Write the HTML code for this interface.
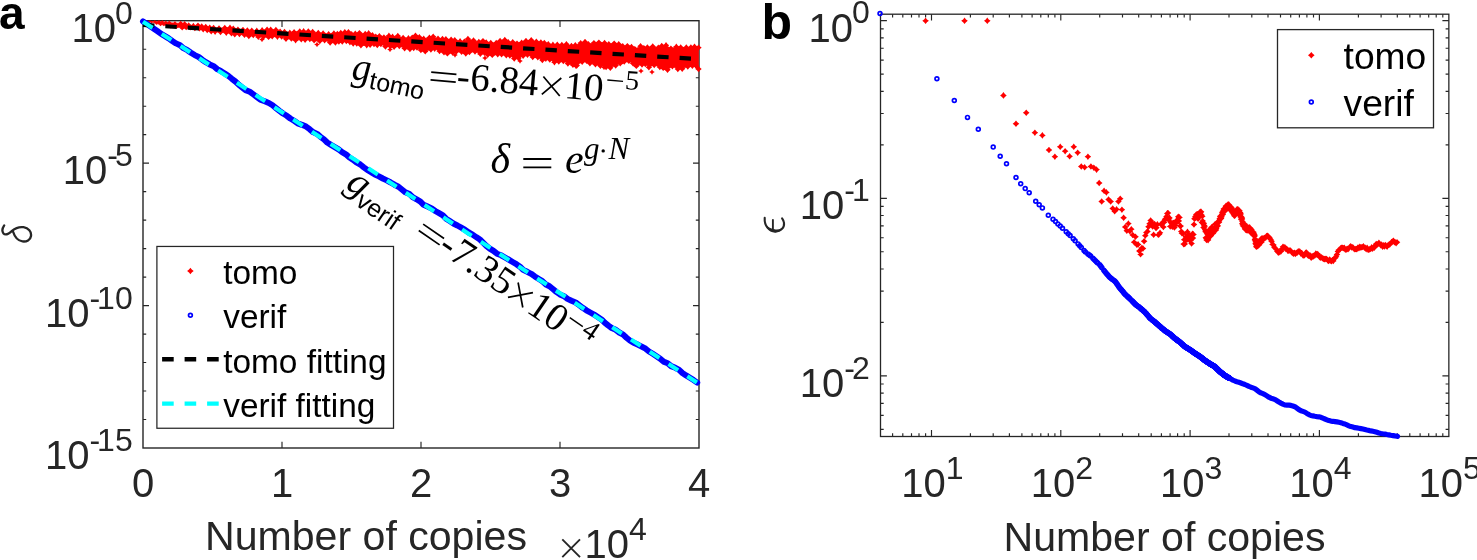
<!DOCTYPE html>
<html><head><meta charset="utf-8"><title>figure</title>
<style>
html,body{margin:0;padding:0;background:#fff;}
body{width:1477px;height:560px;overflow:hidden;font-family:"Liberation Sans",sans-serif;}
svg{display:block;will-change:transform;}
</style></head><body>
<svg width="1477" height="560" viewBox="0 0 1477 560">
<rect x="0" y="0" width="1477" height="560" fill="#fff"/>
<g id="plot-a">
<rect x="143" y="20.7" width="556" height="427.3" fill="none" stroke="#262626" stroke-width="1.4"/>
<path d="M282 448v-6.2M282 20.7v6.2M421 448v-6.2M421 20.7v6.2M560 448v-6.2M560 20.7v6.2M143 49.2h3.2 M699 49.2h-3.2M143 77.7h3.2 M699 77.7h-3.2M143 106.2h3.2 M699 106.2h-3.2M143 134.6h3.2 M699 134.6h-3.2M143 163.1h6 M699 163.1h-6M143 191.6h3.2 M699 191.6h-3.2M143 220.1h3.2 M699 220.1h-3.2M143 248.6h3.2 M699 248.6h-3.2M143 277.1h3.2 M699 277.1h-3.2M143 305.6h6 M699 305.6h-6M143 334.1h3.2 M699 334.1h-3.2M143 362.5h3.2 M699 362.5h-3.2M143 391h3.2 M699 391h-3.2M143 419.5h3.2 M699 419.5h-3.2" stroke="#262626" stroke-width="1.15" fill="none"/>
<path d="M143.5 20.5 L150 21.4 L154.9 21.4 L159 21.4 L162.3 21.9 L165.8 22.3 L169.3 22.4 L175 23.2 L180.7 23.2 L184.7 23.5 L188.7 24.9 L193.4 25.7 L198 25.4 L201.7 26.5 L205.7 27 L209.7 27.7 L213.6 27.9 L219 28.5 L224.8 28 L230 27.8 L233.3 28.8 L237.9 29.8 L243 29.9 L247.3 30.5 L251.8 30.6 L256.8 30.8 L262.1 30.3 L267.1 29.7 L270.7 29.7 L275.9 29.9 L280.1 31.7 L284.5 31.9 L289.8 32.8 L294.1 32.1 L299.8 31.4 L303.6 31.3 L308.3 31.5 L312.6 31.9 L318.3 33 L323.1 33.5 L328.6 34.2 L333.9 33.5 L337.4 33.9 L340.8 33 L344.8 32.3 L348.4 32.1 L351.7 34.3 L355.3 33.6 L359.4 33.1 L365.2 34 L368.6 33.3 L372.5 35.3 L375.8 36.6 L379.4 36.1 L383.9 37.4 L388.9 35.8 L392.6 36.8 L397.8 36 L403.1 37.9 L408.4 38.3 L412.2 37.6 L415.5 35.7 L419.4 37.2 L423.7 38.8 L429.4 37.7 L433.2 36.7 L438 38.8 L442.5 39 L445.9 39.2 L451.1 39.8 L454.8 40.2 L460.1 41.3 L464.3 41.8 L467.9 39 L473.5 40.5 L478.8 42 L483 41.1 L486.2 42.4 L490.8 43 L496.2 43 L500.1 40.9 L504.8 40 L508.3 42.3 L512.7 42.1 L517 43.6 L521.6 42.7 L526 41 L531.2 40.3 L536.3 41.7 L540.9 42.5 L544.3 42.9 L548.3 44.2 L552.9 44.8 L557.3 44.6 L561.8 45 L566.4 44.3 L571.4 45.9 L575.3 45.2 L580.7 43.1 L585 42 L588.4 44.2 L593.9 43.1 L598.9 42.6 L604.6 42.9 L608.8 44.3 L614.2 43.6 L618.7 44.2 L622.7 46.3 L627.4 46.1 L631.5 46.9 L634.8 49.1 L640.5 46.2 L643.8 48.1 L647.4 47.4 L652.7 46.5 L658.3 47.7 L661.7 45.9 L666 45.3 L670.9 48.6 L676.3 46.8 L680.7 47.4 L686.3 47.5 L690.9 47.5 L694.5 46.8 L698.5 47.7 L698.5 69 L696 65.9 L692.4 65.7 L687.8 66.6 L682.2 68.8 L677.8 69 L672.4 66.4 L667.5 69.8 L663.2 67.9 L659.8 67 L654.2 65 L648.9 67.3 L645.3 64.1 L642 64.6 L636.3 65.9 L633 63.3 L628.9 60.9 L624.2 61.6 L620.2 63.4 L615.7 65.5 L610.3 67.8 L606.1 67 L600.4 65.8 L595.4 64.3 L589.9 63.3 L586.5 60.9 L582.2 61.8 L576.8 65.6 L572.9 64.9 L567.9 63.6 L563.3 61.1 L558.8 61.5 L554.4 62.2 L549.8 59.5 L545.8 58.7 L542.4 60 L537.8 57.4 L532.7 57 L527.5 54.9 L523.1 55.8 L518.5 58.1 L514.2 58.5 L509.8 55.6 L506.3 55.3 L501.6 54.3 L497.7 54.3 L492.3 54.9 L487.7 54.7 L484.5 52.8 L480.3 53.9 L475 51.6 L469.4 52 L465.8 53.5 L461.6 51.8 L456.3 51.6 L452.6 52.5 L447.4 53.4 L444 52.3 L439.5 51.1 L434.7 48.7 L430.9 49.5 L425.2 51.4 L420.9 50 L417 47.5 L413.7 48.1 L409.9 49.1 L404.6 48.3 L399.3 46.1 L394.1 46.7 L390.4 46.2 L385.4 46.6 L380.9 44 L377.3 45.1 L374 44 L370.1 44.7 L366.7 45.2 L360.9 45.3 L356.8 43.5 L353.2 43.6 L349.9 42.2 L346.3 41.1 L342.3 41.5 L338.9 41.5 L335.4 42.5 L330.1 42.6 L324.6 40.3 L319.8 41.1 L314.1 40.4 L309.8 39 L305.1 39.8 L301.3 39.3 L295.6 40.2 L291.3 38.5 L286 38.8 L281.6 36.6 L277.4 36.7 L272.2 36.2 L268.6 36.9 L263.6 36.6 L258.3 36.9 L253.3 35 L248.8 36.1 L244.5 34.8 L239.4 34 L234.8 34.3 L231.5 33.3 L226.3 32.7 L220.5 32 L215.1 31.7 L211.2 31.2 L207.2 30.1 L203.2 29.3 L199.5 28.5 L194.9 28.5 L190.2 27.9 L186.2 27.8 L182.2 28.3 L176.5 26.9 L170.8 26.5 L167.3 25.9 L163.8 24.7 L160.5 24.7 L156.4 23.6 L151.5 22.1 L143.5 21.5Z" fill="#f00" stroke="#f00" stroke-width="0.6" stroke-linejoin="miter"/>
<path d="M576 63.7L577 65.5L578.8 66.5L577 67.5L576 69.3L575 67.5L573.2 66.5L575 65.5ZM604 64.7L605 66.5L606.8 67.5L605 68.5L604 70.3L603 68.5L601.2 67.5L603 66.5ZM641 68.2L642 70L643.8 71L642 72L641 73.8L640 72L638.2 71L640 70ZM652 69.2L653 71L654.8 72L653 73L652 74.8L651 73L649.2 72L651 71ZM455 52.2L456 54L457.8 55L456 56L455 57.8L454 56L452.2 55L454 54ZM485 55.2L486 57L487.8 58L486 59L485 60.8L484 59L482.2 58L484 57ZM520 58.2L521 60L522.8 61L521 62L520 63.8L519 62L517.2 61L519 60ZM390 46.7L391 48.5L392.8 49.5L391 50.5L390 52.3L389 50.5L387.2 49.5L389 48.5ZM317 41.7L318 43.5L319.8 44.5L318 45.5L317 47.3L316 45.5L314.2 44.5L316 43.5ZM262 36.7L263 38.5L264.8 39.5L263 40.5L262 42.3L261 40.5L259.2 39.5L261 38.5Z" fill="#f00"/>
<path d="M150 20.2L150.6 20.8L151.2 21.4L150.6 22L150 22.6L149.4 22L148.8 21.4L149.4 20.8ZM151.5 20.9L152.1 21.6L152.7 22.1L152.1 22.7L151.5 23.4L150.9 22.7L150.3 22.1L150.9 21.6ZM154.9 19.9L155.5 20.7L156.3 21.4L155.5 22L154.9 22.8L154.3 22L153.5 21.4L154.3 20.7ZM156.4 22.2L157 23L157.8 23.6L157 24.2L156.4 25L155.8 24.2L155 23.6L155.8 23ZM159 19.9L159.7 20.7L160.6 21.4L159.7 22.1L159 23L158.3 22.1L157.5 21.4L158.3 20.7ZM160.5 23.1L161.2 24L162.1 24.7L161.2 25.4L160.5 26.3L159.8 25.4L159 24.7L159.8 24ZM162.3 20.2L163.1 21.1L164 21.9L163.1 22.7L162.3 23.6L161.6 22.7L160.6 21.9L161.6 21.1ZM163.8 23L164.6 23.9L165.5 24.7L164.6 25.4L163.8 26.3L163.1 25.4L162.1 24.7L163.1 23.9ZM165.8 20.5L166.6 21.5L167.6 22.3L166.6 23.2L165.8 24.2L165 23.2L164 22.3L165 21.5ZM167.3 24.1L168.1 25.1L169.1 25.9L168.1 26.7L167.3 27.7L166.5 26.7L165.5 25.9L166.5 25.1ZM169.3 20.5L170.2 21.5L171.2 22.4L170.2 23.3L169.3 24.4L168.4 23.3L167.4 22.4L168.4 21.5ZM170.8 24.5L171.7 25.6L172.7 26.5L171.7 27.4L170.8 28.4L169.9 27.4L168.9 26.5L169.9 25.6ZM175 21.1L175.9 22.3L177.1 23.2L175.9 24.2L175 25.4L174 24.2L172.8 23.2L174 22.3ZM176.5 24.8L177.4 26L178.6 26.9L177.4 27.9L176.5 29.1L175.5 27.9L174.3 26.9L175.5 26ZM180.7 20.8L181.8 22.1L183.1 23.2L181.8 24.2L180.7 25.5L179.6 24.2L178.3 23.2L179.6 22.1ZM182.2 25.9L183.3 27.2L184.6 28.3L183.3 29.3L182.2 30.6L181.1 29.3L179.8 28.3L181.1 27.2ZM184.7 21L185.8 22.4L187.2 23.5L185.8 24.6L184.7 26L183.5 24.6L182.1 23.5L183.5 22.4ZM186.2 25.3L187.3 26.6L188.7 27.8L187.3 28.9L186.2 30.3L185 28.9L183.6 27.8L185 26.6ZM188.7 22.3L189.9 23.7L191.3 24.9L189.9 26.1L188.7 27.6L187.5 26.1L186 24.9L187.5 23.7ZM190.2 25.2L191.4 26.7L192.8 27.9L191.4 29L190.2 30.5L189 29L187.5 27.9L189 26.7ZM193.4 22.8L194.6 24.4L196.2 25.7L194.6 26.9L193.4 28.5L192.1 26.9L190.5 25.7L192.1 24.4ZM194.9 25.7L196.1 27.2L197.7 28.5L196.1 29.8L194.9 31.3L193.6 29.8L192 28.5L193.6 27.2ZM198 22.4L199.3 24.1L201 25.4L199.3 26.8L198 28.4L196.6 26.8L195 25.4L196.6 24.1ZM199.5 25.5L200.8 27.2L202.5 28.5L200.8 29.9L199.5 31.5L198.1 29.9L196.5 28.5L198.1 27.2ZM201.7 23.3L203.1 25L204.9 26.5L203.1 27.9L201.7 29.6L200.3 27.9L198.6 26.5L200.3 25ZM203.2 26.2L204.6 27.9L206.4 29.3L204.6 30.8L203.2 32.5L201.8 30.8L200.1 29.3L201.8 27.9ZM205.7 23.8L207.2 25.6L208.9 27L207.2 28.4L205.7 30.2L204.3 28.4L202.5 27L204.3 25.6ZM207.2 26.9L208.7 28.6L210.4 30.1L208.7 31.5L207.2 33.3L205.8 31.5L204 30.1L205.8 28.6ZM209.7 24.5L211.2 26.3L212.9 27.7L211.2 29.2L209.7 30.9L208.3 29.2L206.5 27.7L208.3 26.3ZM211.2 28L212.7 29.8L214.4 31.2L212.7 32.7L211.2 34.4L209.8 32.7L208 31.2L209.8 29.8ZM213.6 24.7L215 26.4L216.8 27.9L215 29.3L213.6 31.1L212.1 29.3L210.4 27.9L212.1 26.4ZM215.1 28.5L216.5 30.3L218.3 31.7L216.5 33.1L215.1 34.9L213.6 33.1L211.9 31.7L213.6 30.3ZM219 25.3L220.5 27.1L222.2 28.5L220.5 30L219 31.7L217.6 30L215.8 28.5L217.6 27.1ZM220.5 28.8L222 30.6L223.7 32L222 33.4L220.5 35.2L219.1 33.4L217.3 32L219.1 30.6ZM224.8 24.8L226.2 26.5L228 28L226.2 29.4L224.8 31.2L223.3 29.4L221.6 28L223.3 26.5ZM226.3 29.5L227.7 31.2L229.5 32.7L227.7 34.1L226.3 35.9L224.8 34.1L223.1 32.7L224.8 31.2ZM230 24.6L231.4 26.4L233.2 27.8L231.4 29.3L230 31L228.5 29.3L226.8 27.8L228.5 26.4ZM231.5 30.1L232.9 31.9L234.7 33.3L232.9 34.7L231.5 36.5L230 34.7L228.3 33.3L230 31.9ZM233.3 25.6L234.7 27.3L236.5 28.8L234.7 30.2L233.3 32L231.8 30.2L230.1 28.8L231.8 27.3ZM234.8 31.1L236.2 32.8L238 34.3L236.2 35.7L234.8 37.5L233.3 35.7L231.6 34.3L233.3 32.8ZM237.9 26.6L239.4 28.3L241.1 29.8L239.4 31.2L237.9 33L236.5 31.2L234.7 29.8L236.5 28.3ZM239.4 30.8L240.9 32.6L242.6 34L240.9 35.5L239.4 37.2L238 35.5L236.2 34L238 32.6ZM243 26.7L244.4 28.4L246.2 29.9L244.4 31.3L243 33.1L241.5 31.3L239.8 29.9L241.5 28.4ZM244.5 31.6L245.9 33.3L247.7 34.8L245.9 36.2L244.5 38L243 36.2L241.3 34.8L243 33.3ZM247.3 27.3L248.8 29.1L250.5 30.5L248.8 32L247.3 33.7L245.9 32L244.1 30.5L245.9 29.1ZM248.8 32.9L250.3 34.7L252 36.1L250.3 37.6L248.8 39.3L247.4 37.6L245.6 36.1L247.4 34.7ZM251.8 27.4L253.2 29.2L255 30.6L253.2 32.1L251.8 33.8L250.3 32.1L248.6 30.6L250.3 29.2ZM253.3 31.8L254.7 33.6L256.5 35L254.7 36.4L253.3 38.2L251.8 36.4L250.1 35L251.8 33.6ZM256.8 27.6L258.2 29.4L260 30.8L258.2 32.3L256.8 34L255.4 32.3L253.6 30.8L255.4 29.4ZM258.3 33.7L259.7 35.4L261.5 36.9L259.7 38.3L258.3 40.1L256.9 38.3L255.1 36.9L256.9 35.4ZM262.1 27.1L263.6 28.9L265.3 30.3L263.6 31.8L262.1 33.5L260.7 31.8L258.9 30.3L260.7 28.9ZM263.6 33.4L265.1 35.2L266.8 36.6L265.1 38.1L263.6 39.8L262.2 38.1L260.4 36.6L262.2 35.2ZM267.1 26.5L268.5 28.2L270.3 29.7L268.5 31.1L267.1 32.9L265.6 31.1L263.9 29.7L265.6 28.2ZM268.6 33.7L270 35.5L271.8 36.9L270 38.4L268.6 40.1L267.1 38.4L265.4 36.9L267.1 35.5ZM270.7 26.5L272.1 28.2L273.9 29.7L272.1 31.1L270.7 32.9L269.3 31.1L267.5 29.7L269.3 28.2ZM272.2 33L273.6 34.8L275.4 36.2L273.6 37.7L272.2 39.4L270.8 37.7L269 36.2L270.8 34.8ZM275.9 26.7L277.3 28.4L279.1 29.9L277.3 31.3L275.9 33.1L274.5 31.3L272.7 29.9L274.5 28.4ZM277.4 33.5L278.8 35.2L280.6 36.7L278.8 38.1L277.4 39.9L276 38.1L274.2 36.7L276 35.2ZM280.1 28.5L281.6 30.2L283.3 31.7L281.6 33.1L280.1 34.9L278.7 33.1L276.9 31.7L278.7 30.2ZM281.6 33.4L283.1 35.2L284.8 36.6L283.1 38.1L281.6 39.8L280.2 38.1L278.4 36.6L280.2 35.2ZM284.5 28.7L285.9 30.5L287.7 31.9L285.9 33.3L284.5 35.1L283 33.3L281.3 31.9L283 30.5ZM286 35.6L287.4 37.4L289.2 38.8L287.4 40.3L286 42L284.5 40.3L282.8 38.8L284.5 37.4ZM289.8 29.6L291.3 31.4L293 32.8L291.3 34.2L289.8 36L288.4 34.2L286.6 32.8L288.4 31.4ZM291.3 35.3L292.8 37.1L294.5 38.5L292.8 40L291.3 41.7L289.9 40L288.1 38.5L289.9 37.1ZM294.1 28.9L295.5 30.7L297.3 32.1L295.5 33.6L294.1 35.3L292.7 33.6L290.9 32.1L292.7 30.7ZM295.6 37L297 38.7L298.8 40.2L297 41.6L295.6 43.4L294.2 41.6L292.4 40.2L294.2 38.7ZM299.8 28.2L301.2 30L303 31.4L301.2 32.9L299.8 34.6L298.3 32.9L296.6 31.4L298.3 30ZM301.3 36.1L302.7 37.9L304.5 39.3L302.7 40.7L301.3 42.5L299.8 40.7L298.1 39.3L299.8 37.9ZM303.6 28.1L305 29.9L306.8 31.3L305 32.8L303.6 34.5L302.2 32.8L300.4 31.3L302.2 29.9ZM305.1 36.6L306.5 38.4L308.3 39.8L306.5 41.3L305.1 43L303.7 41.3L301.9 39.8L303.7 38.4ZM308.3 28.3L309.8 30L311.5 31.5L309.8 32.9L308.3 34.7L306.9 32.9L305.1 31.5L306.9 30ZM309.8 35.8L311.3 37.6L313 39L311.3 40.4L309.8 42.2L308.4 40.4L306.6 39L308.4 37.6ZM312.6 28.7L314.1 30.4L315.8 31.9L314.1 33.3L312.6 35.1L311.2 33.3L309.4 31.9L311.2 30.4ZM314.1 37.2L315.6 38.9L317.3 40.4L315.6 41.8L314.1 43.6L312.7 41.8L310.9 40.4L312.7 38.9ZM318.3 29.8L319.7 31.5L321.5 33L319.7 34.4L318.3 36.2L316.8 34.4L315.1 33L316.8 31.5ZM319.8 37.9L321.2 39.7L323 41.1L321.2 42.6L319.8 44.3L318.3 42.6L316.6 41.1L318.3 39.7ZM323.1 30.3L324.5 32.1L326.3 33.5L324.5 35L323.1 36.7L321.7 35L319.9 33.5L321.7 32.1ZM324.6 37.1L326 38.9L327.8 40.3L326 41.8L324.6 43.5L323.2 41.8L321.4 40.3L323.2 38.9ZM328.6 31L330.1 32.7L331.8 34.2L330.1 35.6L328.6 37.4L327.2 35.6L325.4 34.2L327.2 32.7ZM330.1 39.4L331.6 41.2L333.3 42.6L331.6 44.1L330.1 45.8L328.7 44.1L326.9 42.6L328.7 41.2ZM333.9 30.3L335.3 32.1L337.1 33.5L335.3 35L333.9 36.7L332.5 35L330.7 33.5L332.5 32.1ZM335.4 39.3L336.8 41L338.6 42.5L336.8 43.9L335.4 45.7L334 43.9L332.2 42.5L334 41ZM337.4 30.7L338.8 32.5L340.6 33.9L338.8 35.4L337.4 37.1L335.9 35.4L334.2 33.9L335.9 32.5ZM338.9 38.3L340.3 40L342.1 41.5L340.3 42.9L338.9 44.7L337.4 42.9L335.7 41.5L337.4 40ZM340.8 29.8L342.2 31.6L344 33L342.2 34.5L340.8 36.2L339.3 34.5L337.6 33L339.3 31.6ZM342.3 38.3L343.7 40L345.5 41.5L343.7 42.9L342.3 44.7L340.8 42.9L339.1 41.5L340.8 40ZM344.8 29.1L346.3 30.8L348 32.3L346.3 33.7L344.8 35.5L343.4 33.7L341.6 32.3L343.4 30.8ZM346.3 37.9L347.8 39.7L349.5 41.1L347.8 42.6L346.3 44.3L344.9 42.6L343.1 41.1L344.9 39.7ZM348.4 28.9L349.9 30.7L351.6 32.1L349.9 33.6L348.4 35.3L347 33.6L345.2 32.1L347 30.7ZM349.9 39L351.4 40.8L353.1 42.2L351.4 43.6L349.9 45.4L348.5 43.6L346.7 42.2L348.5 40.8ZM351.7 31.1L353.1 32.9L354.9 34.3L353.1 35.8L351.7 37.5L350.3 35.8L348.5 34.3L350.3 32.9ZM353.2 40.4L354.6 42.2L356.4 43.6L354.6 45L353.2 46.8L351.8 45L350 43.6L351.8 42.2ZM355.3 30.4L356.7 32.2L358.5 33.6L356.7 35.1L355.3 36.8L353.8 35.1L352.1 33.6L353.8 32.2ZM356.8 40.3L358.2 42.1L360 43.5L358.2 45L356.8 46.7L355.3 45L353.6 43.5L355.3 42.1ZM359.4 29.9L360.9 31.6L362.6 33.1L360.9 34.5L359.4 36.3L358 34.5L356.2 33.1L358 31.6ZM360.9 42.1L362.4 43.9L364.1 45.3L362.4 46.7L360.9 48.5L359.5 46.7L357.7 45.3L359.5 43.9ZM365.2 30.8L366.7 32.5L368.4 34L366.7 35.4L365.2 37.2L363.8 35.4L362 34L363.8 32.5ZM366.7 42L368.2 43.7L369.9 45.2L368.2 46.6L366.7 48.4L365.3 46.6L363.5 45.2L365.3 43.7ZM368.6 30.1L370.1 31.9L371.8 33.3L370.1 34.8L368.6 36.5L367.2 34.8L365.4 33.3L367.2 31.9ZM370.1 41.5L371.6 43.3L373.3 44.7L371.6 46.2L370.1 47.9L368.7 46.2L366.9 44.7L368.7 43.3ZM372.5 32.1L374 33.9L375.7 35.3L374 36.7L372.5 38.5L371.1 36.7L369.3 35.3L371.1 33.9ZM374 40.8L375.5 42.6L377.2 44L375.5 45.5L374 47.2L372.6 45.5L370.8 44L372.6 42.6ZM375.8 33.4L377.2 35.2L379 36.6L377.2 38.1L375.8 39.8L374.3 38.1L372.6 36.6L374.3 35.2ZM377.3 41.9L378.7 43.6L380.5 45.1L378.7 46.5L377.3 48.3L375.8 46.5L374.1 45.1L375.8 43.6ZM379.4 32.9L380.8 34.7L382.6 36.1L380.8 37.6L379.4 39.3L377.9 37.6L376.2 36.1L377.9 34.7ZM380.9 40.8L382.3 42.5L384.1 44L382.3 45.4L380.9 47.2L379.4 45.4L377.7 44L379.4 42.5ZM383.9 34.2L385.4 35.9L387.1 37.4L385.4 38.8L383.9 40.6L382.5 38.8L380.7 37.4L382.5 35.9ZM385.4 43.4L386.9 45.1L388.6 46.6L386.9 48L385.4 49.8L384 48L382.2 46.6L384 45.1ZM388.9 32.6L390.4 34.4L392.1 35.8L390.4 37.3L388.9 39L387.5 37.3L385.7 35.8L387.5 34.4ZM390.4 43L391.9 44.8L393.6 46.2L391.9 47.7L390.4 49.4L389 47.7L387.2 46.2L389 44.8ZM392.6 33.6L394 35.4L395.8 36.8L394 38.2L392.6 40L391.1 38.2L389.4 36.8L391.1 35.4ZM394.1 43.5L395.5 45.3L397.3 46.7L395.5 48.2L394.1 49.9L392.6 48.2L390.9 46.7L392.6 45.3ZM397.8 32.8L399.2 34.6L401 36L399.2 37.4L397.8 39.2L396.4 37.4L394.6 36L396.4 34.6ZM399.3 42.9L400.7 44.7L402.5 46.1L400.7 47.5L399.3 49.3L397.9 47.5L396.1 46.1L397.9 44.7ZM403.1 34.7L404.6 36.4L406.3 37.9L404.6 39.3L403.1 41.1L401.7 39.3L399.9 37.9L401.7 36.4ZM404.6 45.1L406.1 46.9L407.8 48.3L406.1 49.7L404.6 51.5L403.2 49.7L401.4 48.3L403.2 46.9ZM408.4 35.1L409.9 36.9L411.6 38.3L409.9 39.8L408.4 41.5L407 39.8L405.2 38.3L407 36.9ZM409.9 45.9L411.4 47.7L413.1 49.1L411.4 50.6L409.9 52.3L408.5 50.6L406.7 49.1L408.5 47.7ZM412.2 34.4L413.6 36.2L415.4 37.6L413.6 39.1L412.2 40.8L410.8 39.1L409 37.6L410.8 36.2ZM413.7 44.9L415.1 46.7L416.9 48.1L415.1 49.6L413.7 51.3L412.3 49.6L410.5 48.1L412.3 46.7ZM415.5 32.5L416.9 34.3L418.7 35.7L416.9 37.2L415.5 38.9L414 37.2L412.3 35.7L414 34.3ZM417 44.3L418.4 46.1L420.2 47.5L418.4 49L417 50.7L415.5 49L413.8 47.5L415.5 46.1ZM419.4 34L420.8 35.8L422.6 37.2L420.8 38.7L419.4 40.4L417.9 38.7L416.2 37.2L417.9 35.8ZM420.9 46.8L422.3 48.5L424.1 50L422.3 51.4L420.9 53.2L419.4 51.4L417.7 50L419.4 48.5ZM423.7 35.6L425.2 37.4L426.9 38.8L425.2 40.3L423.7 42L422.3 40.3L420.5 38.8L422.3 37.4ZM425.2 48.2L426.7 50L428.4 51.4L426.7 52.8L425.2 54.6L423.8 52.8L422 51.4L423.8 50ZM429.4 34.5L430.8 36.3L432.6 37.7L430.8 39.2L429.4 40.9L428 39.2L426.2 37.7L428 36.3ZM430.9 46.3L432.3 48.1L434.1 49.5L432.3 50.9L430.9 52.7L429.5 50.9L427.7 49.5L429.5 48.1ZM433.2 33.5L434.6 35.2L436.4 36.7L434.6 38.1L433.2 39.9L431.7 38.1L430 36.7L431.7 35.2ZM434.7 45.5L436.1 47.2L437.9 48.7L436.1 50.1L434.7 51.9L433.2 50.1L431.5 48.7L433.2 47.2ZM438 35.6L439.5 37.3L441.2 38.8L439.5 40.2L438 42L436.6 40.2L434.8 38.8L436.6 37.3ZM439.5 47.9L441 49.7L442.7 51.1L441 52.6L439.5 54.3L438.1 52.6L436.3 51.1L438.1 49.7ZM442.5 35.8L443.9 37.5L445.7 39L443.9 40.4L442.5 42.2L441 40.4L439.3 39L441 37.5ZM444 49.1L445.4 50.9L447.2 52.3L445.4 53.7L444 55.5L442.5 53.7L440.8 52.3L442.5 50.9ZM445.9 36L447.3 37.7L449.1 39.2L447.3 40.6L445.9 42.4L444.4 40.6L442.7 39.2L444.4 37.7ZM447.4 50.2L448.8 52L450.6 53.4L448.8 54.9L447.4 56.6L445.9 54.9L444.2 53.4L445.9 52ZM451.1 36.6L452.6 38.3L454.3 39.8L452.6 41.2L451.1 43L449.7 41.2L447.9 39.8L449.7 38.3ZM452.6 49.3L454.1 51.1L455.8 52.5L454.1 54L452.6 55.7L451.2 54L449.4 52.5L451.2 51.1ZM454.8 37L456.2 38.8L458 40.2L456.2 41.7L454.8 43.4L453.3 41.7L451.6 40.2L453.3 38.8ZM456.3 48.4L457.7 50.2L459.5 51.6L457.7 53.1L456.3 54.8L454.8 53.1L453.1 51.6L454.8 50.2ZM460.1 38.1L461.5 39.9L463.3 41.3L461.5 42.7L460.1 44.5L458.6 42.7L456.9 41.3L458.6 39.9ZM461.6 48.6L463 50.4L464.8 51.8L463 53.3L461.6 55L460.1 53.3L458.4 51.8L460.1 50.4ZM464.3 38.6L465.7 40.3L467.5 41.8L465.7 43.2L464.3 45L462.9 43.2L461.1 41.8L462.9 40.3ZM465.8 50.3L467.2 52L469 53.5L467.2 54.9L465.8 56.7L464.4 54.9L462.6 53.5L464.4 52ZM467.9 35.8L469.4 37.6L471.1 39L469.4 40.5L467.9 42.2L466.5 40.5L464.7 39L466.5 37.6ZM469.4 48.8L470.9 50.5L472.6 52L470.9 53.4L469.4 55.2L468 53.4L466.2 52L468 50.5ZM473.5 37.3L474.9 39.1L476.7 40.5L474.9 41.9L473.5 43.7L472.1 41.9L470.3 40.5L472.1 39.1ZM475 48.4L476.4 50.1L478.2 51.6L476.4 53L475 54.8L473.6 53L471.8 51.6L473.6 50.1ZM478.8 38.8L480.3 40.6L482 42L480.3 43.4L478.8 45.2L477.4 43.4L475.6 42L477.4 40.6ZM480.3 50.7L481.8 52.5L483.5 53.9L481.8 55.3L480.3 57.1L478.9 55.3L477.1 53.9L478.9 52.5ZM483 37.9L484.4 39.6L486.2 41.1L484.4 42.5L483 44.3L481.5 42.5L479.8 41.1L481.5 39.6ZM484.5 49.6L485.9 51.4L487.7 52.8L485.9 54.2L484.5 56L483 54.2L481.3 52.8L483 51.4ZM486.2 39.2L487.6 40.9L489.4 42.4L487.6 43.8L486.2 45.6L484.8 43.8L483 42.4L484.8 40.9ZM487.7 51.5L489.1 53.3L490.9 54.7L489.1 56.2L487.7 57.9L486.3 56.2L484.5 54.7L486.3 53.3ZM490.8 39.8L492.2 41.6L494 43L492.2 44.4L490.8 46.2L489.3 44.4L487.6 43L489.3 41.6ZM492.3 51.7L493.7 53.5L495.5 54.9L493.7 56.4L492.3 58.1L490.8 56.4L489.1 54.9L490.8 53.5ZM496.2 39.8L497.7 41.6L499.4 43L497.7 44.5L496.2 46.2L494.8 44.5L493 43L494.8 41.6ZM497.7 51.1L499.2 52.9L500.9 54.3L499.2 55.8L497.7 57.5L496.3 55.8L494.5 54.3L496.3 52.9ZM500.1 37.7L501.5 39.5L503.3 40.9L501.5 42.4L500.1 44.1L498.6 42.4L496.9 40.9L498.6 39.5ZM501.6 51.1L503 52.9L504.8 54.3L503 55.7L501.6 57.5L500.1 55.7L498.4 54.3L500.1 52.9ZM504.8 36.8L506.2 38.6L508 40L506.2 41.4L504.8 43.2L503.4 41.4L501.6 40L503.4 38.6ZM506.3 52.1L507.7 53.9L509.5 55.3L507.7 56.8L506.3 58.5L504.9 56.8L503.1 55.3L504.9 53.9ZM508.3 39.1L509.8 40.9L511.5 42.3L509.8 43.7L508.3 45.5L506.9 43.7L505.1 42.3L506.9 40.9ZM509.8 52.4L511.3 54.1L513 55.6L511.3 57L509.8 58.8L508.4 57L506.6 55.6L508.4 54.1ZM512.7 38.9L514.2 40.7L515.9 42.1L514.2 43.6L512.7 45.3L511.3 43.6L509.5 42.1L511.3 40.7ZM514.2 55.3L515.7 57L517.4 58.5L515.7 59.9L514.2 61.7L512.8 59.9L511 58.5L512.8 57ZM517 40.4L518.5 42.1L520.2 43.6L518.5 45L517 46.8L515.6 45L513.8 43.6L515.6 42.1ZM518.5 54.9L520 56.6L521.7 58.1L520 59.5L518.5 61.3L517.1 59.5L515.3 58.1L517.1 56.6ZM521.6 39.5L523.1 41.3L524.8 42.7L523.1 44.1L521.6 45.9L520.2 44.1L518.4 42.7L520.2 41.3ZM523.1 52.6L524.6 54.4L526.3 55.8L524.6 57.3L523.1 59L521.7 57.3L519.9 55.8L521.7 54.4ZM526 37.8L527.4 39.5L529.2 41L527.4 42.4L526 44.2L524.5 42.4L522.8 41L524.5 39.5ZM527.5 51.7L528.9 53.4L530.7 54.9L528.9 56.3L527.5 58.1L526 56.3L524.3 54.9L526 53.4ZM531.2 37.1L532.7 38.8L534.4 40.3L532.7 41.7L531.2 43.5L529.8 41.7L528 40.3L529.8 38.8ZM532.7 53.8L534.2 55.5L535.9 57L534.2 58.4L532.7 60.2L531.3 58.4L529.5 57L531.3 55.5ZM536.3 38.5L537.8 40.3L539.5 41.7L537.8 43.2L536.3 44.9L534.9 43.2L533.1 41.7L534.9 40.3ZM537.8 54.2L539.3 55.9L541 57.4L539.3 58.8L537.8 60.6L536.4 58.8L534.6 57.4L536.4 55.9ZM540.9 39.3L542.3 41.1L544.1 42.5L542.3 43.9L540.9 45.7L539.4 43.9L537.7 42.5L539.4 41.1ZM542.4 56.8L543.8 58.6L545.6 60L543.8 61.4L542.4 63.2L540.9 61.4L539.2 60L540.9 58.6ZM544.3 39.7L545.8 41.5L547.5 42.9L545.8 44.4L544.3 46.1L542.9 44.4L541.1 42.9L542.9 41.5ZM545.8 55.5L547.3 57.2L549 58.7L547.3 60.1L545.8 61.9L544.4 60.1L542.6 58.7L544.4 57.2ZM548.3 41L549.7 42.8L551.5 44.2L549.7 45.6L548.3 47.4L546.8 45.6L545.1 44.2L546.8 42.8ZM549.8 56.3L551.2 58.1L553 59.5L551.2 61L549.8 62.7L548.3 61L546.6 59.5L548.3 58.1ZM552.9 41.6L554.4 43.4L556.1 44.8L554.4 46.3L552.9 48L551.5 46.3L549.7 44.8L551.5 43.4ZM554.4 59L555.9 60.7L557.6 62.2L555.9 63.6L554.4 65.4L553 63.6L551.2 62.2L553 60.7ZM557.3 41.4L558.7 43.2L560.5 44.6L558.7 46L557.3 47.8L555.8 46L554.1 44.6L555.8 43.2ZM558.8 58.3L560.2 60.1L562 61.5L560.2 62.9L558.8 64.7L557.3 62.9L555.6 61.5L557.3 60.1ZM561.8 41.8L563.3 43.5L565 45L563.3 46.4L561.8 48.2L560.4 46.4L558.6 45L560.4 43.5ZM563.3 57.9L564.8 59.7L566.5 61.1L564.8 62.6L563.3 64.3L561.9 62.6L560.1 61.1L561.9 59.7ZM566.4 41.1L567.8 42.8L569.6 44.3L567.8 45.7L566.4 47.5L565 45.7L563.2 44.3L565 42.8ZM567.9 60.4L569.3 62.2L571.1 63.6L569.3 65L567.9 66.8L566.5 65L564.7 63.6L566.5 62.2ZM571.4 42.7L572.9 44.4L574.6 45.9L572.9 47.3L571.4 49.1L570 47.3L568.2 45.9L570 44.4ZM572.9 61.7L574.4 63.5L576.1 64.9L574.4 66.3L572.9 68.1L571.5 66.3L569.7 64.9L571.5 63.5ZM575.3 42L576.7 43.8L578.5 45.2L576.7 46.7L575.3 48.4L573.9 46.7L572.1 45.2L573.9 43.8ZM576.8 62.4L578.2 64.1L580 65.6L578.2 67L576.8 68.8L575.4 67L573.6 65.6L575.4 64.1ZM580.7 39.9L582.1 41.7L583.9 43.1L582.1 44.6L580.7 46.3L579.2 44.6L577.5 43.1L579.2 41.7ZM582.2 58.6L583.6 60.4L585.4 61.8L583.6 63.3L582.2 65L580.7 63.3L579 61.8L580.7 60.4ZM585 38.8L586.5 40.5L588.2 42L586.5 43.4L585 45.2L583.6 43.4L581.8 42L583.6 40.5ZM586.5 57.7L588 59.4L589.7 60.9L588 62.3L586.5 64.1L585.1 62.3L583.3 60.9L585.1 59.4ZM588.4 41L589.9 42.8L591.6 44.2L589.9 45.7L588.4 47.4L587 45.7L585.2 44.2L587 42.8ZM589.9 60.1L591.4 61.9L593.1 63.3L591.4 64.8L589.9 66.5L588.5 64.8L586.7 63.3L588.5 61.9ZM593.9 39.9L595.4 41.6L597.1 43.1L595.4 44.5L593.9 46.3L592.5 44.5L590.7 43.1L592.5 41.6ZM595.4 61.1L596.9 62.9L598.6 64.3L596.9 65.8L595.4 67.5L594 65.8L592.2 64.3L594 62.9ZM598.9 39.4L600.3 41.1L602.1 42.6L600.3 44L598.9 45.8L597.4 44L595.7 42.6L597.4 41.1ZM600.4 62.6L601.8 64.3L603.6 65.8L601.8 67.2L600.4 69L598.9 67.2L597.2 65.8L598.9 64.3ZM604.6 39.7L606 41.4L607.8 42.9L606 44.3L604.6 46.1L603.1 44.3L601.4 42.9L603.1 41.4ZM606.1 63.8L607.5 65.6L609.3 67L607.5 68.4L606.1 70.2L604.6 68.4L602.9 67L604.6 65.6ZM608.8 41.1L610.3 42.8L612 44.3L610.3 45.7L608.8 47.5L607.4 45.7L605.6 44.3L607.4 42.8ZM610.3 64.6L611.8 66.4L613.5 67.8L611.8 69.3L610.3 71L608.9 69.3L607.1 67.8L608.9 66.4ZM614.2 40.4L615.6 42.1L617.4 43.6L615.6 45L614.2 46.8L612.7 45L611 43.6L612.7 42.1ZM615.7 62.3L617.1 64.1L618.9 65.5L617.1 66.9L615.7 68.7L614.2 66.9L612.5 65.5L614.2 64.1ZM618.7 41L620.2 42.7L621.9 44.2L620.2 45.6L618.7 47.4L617.3 45.6L615.5 44.2L617.3 42.7ZM620.2 60.2L621.7 61.9L623.4 63.4L621.7 64.8L620.2 66.6L618.8 64.8L617 63.4L618.8 61.9ZM622.7 43.1L624.2 44.8L625.9 46.3L624.2 47.7L622.7 49.5L621.3 47.7L619.5 46.3L621.3 44.8ZM624.2 58.4L625.7 60.1L627.4 61.6L625.7 63L624.2 64.8L622.8 63L621 61.6L622.8 60.1ZM627.4 42.9L628.8 44.6L630.6 46.1L628.8 47.5L627.4 49.3L625.9 47.5L624.2 46.1L625.9 44.6ZM628.9 57.7L630.3 59.5L632.1 60.9L630.3 62.4L628.9 64.1L627.4 62.4L625.7 60.9L627.4 59.5ZM631.5 43.7L632.9 45.5L634.7 46.9L632.9 48.4L631.5 50.1L630 48.4L628.3 46.9L630 45.5ZM633 60.1L634.4 61.9L636.2 63.3L634.4 64.8L633 66.5L631.5 64.8L629.8 63.3L631.5 61.9ZM634.8 45.9L636.3 47.6L638 49.1L636.3 50.5L634.8 52.3L633.4 50.5L631.6 49.1L633.4 47.6ZM636.3 62.7L637.8 64.5L639.5 65.9L637.8 67.4L636.3 69.1L634.9 67.4L633.1 65.9L634.9 64.5ZM640.5 43L642 44.8L643.7 46.2L642 47.6L640.5 49.4L639.1 47.6L637.3 46.2L639.1 44.8ZM642 61.4L643.5 63.2L645.2 64.6L643.5 66.1L642 67.8L640.6 66.1L638.8 64.6L640.6 63.2ZM643.8 44.9L645.3 46.6L647 48.1L645.3 49.5L643.8 51.3L642.4 49.5L640.6 48.1L642.4 46.6ZM645.3 60.9L646.8 62.7L648.5 64.1L646.8 65.5L645.3 67.3L643.9 65.5L642.1 64.1L643.9 62.7ZM647.4 44.2L648.8 45.9L650.6 47.4L648.8 48.8L647.4 50.6L645.9 48.8L644.2 47.4L645.9 45.9ZM648.9 64.1L650.3 65.9L652.1 67.3L650.3 68.8L648.9 70.5L647.4 68.8L645.7 67.3L647.4 65.9ZM652.7 43.3L654.2 45L655.9 46.5L654.2 47.9L652.7 49.7L651.3 47.9L649.5 46.5L651.3 45ZM654.2 61.8L655.7 63.6L657.4 65L655.7 66.5L654.2 68.2L652.8 66.5L651 65L652.8 63.6ZM658.3 44.5L659.7 46.3L661.5 47.7L659.7 49.1L658.3 50.9L656.9 49.1L655.1 47.7L656.9 46.3ZM659.8 63.8L661.2 65.6L663 67L661.2 68.5L659.8 70.2L658.4 68.5L656.6 67L658.4 65.6ZM661.7 42.7L663.2 44.5L664.9 45.9L663.2 47.4L661.7 49.1L660.3 47.4L658.5 45.9L660.3 44.5ZM663.2 64.7L664.7 66.5L666.4 67.9L664.7 69.4L663.2 71.1L661.8 69.4L660 67.9L661.8 66.5ZM666 42.1L667.5 43.9L669.2 45.3L667.5 46.8L666 48.5L664.6 46.8L662.8 45.3L664.6 43.9ZM667.5 66.6L669 68.4L670.7 69.8L669 71.2L667.5 73L666.1 71.2L664.3 69.8L666.1 68.4ZM670.9 45.4L672.3 47.1L674.1 48.6L672.3 50L670.9 51.8L669.5 50L667.7 48.6L669.5 47.1ZM672.4 63.2L673.8 64.9L675.6 66.4L673.8 67.8L672.4 69.6L671 67.8L669.2 66.4L671 64.9ZM676.3 43.6L677.8 45.4L679.5 46.8L677.8 48.3L676.3 50L674.9 48.3L673.1 46.8L674.9 45.4ZM677.8 65.8L679.3 67.6L681 69L679.3 70.5L677.8 72.2L676.4 70.5L674.6 69L676.4 67.6ZM680.7 44.2L682.1 46L683.9 47.4L682.1 48.8L680.7 50.6L679.3 48.8L677.5 47.4L679.3 46ZM682.2 65.6L683.6 67.3L685.4 68.8L683.6 70.2L682.2 72L680.8 70.2L679 68.8L680.8 67.3ZM686.3 44.3L687.7 46.1L689.5 47.5L687.7 49L686.3 50.7L684.9 49L683.1 47.5L684.9 46.1ZM687.8 63.4L689.2 65.2L691 66.6L689.2 68.1L687.8 69.8L686.4 68.1L684.6 66.6L686.4 65.2ZM690.9 44.3L692.3 46.1L694.1 47.5L692.3 49L690.9 50.7L689.4 49L687.7 47.5L689.4 46.1ZM692.4 62.5L693.8 64.3L695.6 65.7L693.8 67.2L692.4 68.9L690.9 67.2L689.2 65.7L690.9 64.3ZM694.5 43.6L695.9 45.3L697.7 46.8L695.9 48.2L694.5 50L693.1 48.2L691.3 46.8L693.1 45.3ZM696 62.7L697.4 64.4L699.2 65.9L697.4 67.3L696 69.1L694.6 67.3L692.8 65.9L694.6 64.4ZM698.5 44.5L699.9 46.3L701.7 47.7L699.9 49.1L698.5 50.9L697.1 49.1L695.3 47.7L697.1 46.3ZM698.5 65.8L699.9 67.6L701.7 69L699.9 70.4L698.5 72.2L697.1 70.4L695.3 69L697.1 67.6Z" fill="#f00"/>
<path d="M143 21.4 L146.7 23.8 L150.3 26.3 L153.9 28.8 L157.6 31.3 L161.2 33.9 L165 36.1 L168.7 38.4 L172.3 41 L176 43.4 L180.1 45.3 L183.5 48.2 L187.4 50.2 L191 52.7 L194.7 55.1 L198.7 57 L202.2 59.7 L205.9 62.2 L209.7 64.4 L213.8 66.2 L217.2 69.1 L221.1 71.2 L224.8 73.5 L228.5 76 L231.9 78.8 L235.4 81.5 L238.7 84.6 L242.1 87.3 L245.6 90.1 L249.8 91.8 L253.4 94.4 L256.9 97 L260.4 99.7 L264.7 101.3 L268.8 103 L272.6 105.3 L276 108.1 L279.5 110.9 L283 113.5 L286.8 115.8 L290.3 118.5 L294.1 120.8 L297.7 123.3 L301.9 124.8 L306.1 126.6 L309.6 129.2 L313 132.1 L317.1 133.9 L320.5 136.8 L324 139.4 L327.2 142.5 L331 144.9 L334.8 147.1 L338.6 149.4 L342.1 152.1 L345.9 154.3 L349.2 157.3 L352.9 159.7 L356.4 162.4 L360.3 164.5 L363.8 167.3 L367.3 169.9 L371.1 172.1 L374.9 174.5 L378.9 176.4 L382.8 178.5 L386.8 180.4 L390.7 182.5 L394.5 184.7 L398.5 186.7 L401.9 189.5 L405.4 192.3 L409.5 194 L412.7 197.2 L416.6 199.3 L420.4 201.6 L423.6 204.8 L427.6 206.6 L431.7 208.5 L435.3 211 L439.1 213.2 L442.9 215.4 L446.1 218.7 L449.8 221.1 L453.4 223.5 L457.4 225.5 L461.3 227.7 L465.1 229.9 L468.7 232.5 L472.6 234.6 L476.2 237.1 L479.9 239.5 L483.1 242.6 L486.3 245.8 L489.8 248.6 L493.5 250.9 L497 253.7 L501.2 255.3 L505 257.5 L508.8 259.7 L512.6 262 L516.4 264.2 L520 266.7 L523.2 269.9 L527.3 271.8 L531.2 273.8 L534.8 276.4 L538.5 278.8 L542.3 281.1 L545.5 284.2 L549.5 286.2 L552.9 289 L556.3 291.9 L559.9 294.4 L564 296.2 L567.5 298.9 L571.5 300.8 L575.7 302.5 L579.2 305.1 L582.7 307.8 L586.4 310.3 L590.3 312.5 L594.1 314.6 L597.8 317 L601.5 319.4 L604.7 322.6 L608.1 325.4 L611.7 328 L615.8 329.8 L619.3 332.5 L623.2 334.6 L626.5 337.7 L629.9 340.5 L633.6 342.8 L637.7 344.6 L641.7 346.6 L645.6 348.7 L649 351.5 L652.8 353.8 L656.5 356.2 L660.2 358.7 L663.5 361.6 L667.7 363.2 L671.1 366.1 L675.3 367.8 L679.1 369.9 L682.4 373 L686.1 375.4 L689.9 377.7 L693.6 380.1 L697.2 382.6" fill="none" stroke="#00f" stroke-width="6" stroke-linecap="round" stroke-linejoin="round"/>
<line x1="143" y1="24.9" x2="699" y2="59.1" stroke="#000" stroke-width="4.2" stroke-dasharray="11.4 11"/>
<line x1="143" y1="21.66" x2="698" y2="383.15" stroke="#0ff" stroke-width="4.2" stroke-dasharray="11.4 11"/>
</g>
<g font-family='"Liberation Sans", sans-serif' fill="#262626">
<text x="132.7" y="42" text-anchor="end" font-size="40"><tspan>10</tspan><tspan font-size="32" dy="-18.2" dx="-1.2">0</tspan></text>
<text x="132.7" y="184.4" text-anchor="end" font-size="40"><tspan>10</tspan><tspan font-size="32" dy="-18.2">-</tspan><tspan font-size="32" dx="-3">5</tspan></text>
<text x="132.7" y="326.9" text-anchor="end" font-size="40"><tspan>10</tspan><tspan font-size="32" dy="-18.2">-</tspan><tspan font-size="32" dx="-3">10</tspan></text>
<text x="132.7" y="469.3" text-anchor="end" font-size="40"><tspan>10</tspan><tspan font-size="32" dy="-18.2">-</tspan><tspan font-size="32" dx="-3">15</tspan></text>
<text x="143" y="497" text-anchor="middle" font-size="40">0</text>
<text x="282" y="497" text-anchor="middle" font-size="40">1</text>
<text x="421" y="497" text-anchor="middle" font-size="40">2</text>
<text x="560" y="497" text-anchor="middle" font-size="40">3</text>
<text x="699" y="497" text-anchor="middle" font-size="40">4</text>
<text x="205" y="550.4" font-size="40" textLength="322" lengthAdjust="spacingAndGlyphs">Number of copies</text>
<path d="M562.3 539.4L580 557.1M562.3 557.1L580 539.4" stroke="#262626" stroke-width="1.9" fill="none"/>
<text x="584.6" y="557.8" font-size="40">10<tspan font-size="32" dy="-18.2">4</tspan></text>
<path d="M4.2 225.4C2.6 227.8 1.8 231.4 3.5 233.5C5.4 235.6 9 233.6 12 230.9C15.5 227.9 19 226.6 23.5 227.2C28.5 228 31.6 231.6 31 236C30.5 240 26.5 242 22.5 241.4C18 240.7 14.6 236.6 13.2 232" fill="none" stroke="#262626" stroke-width="2.3" stroke-linecap="round"/>
</g>
<text x="-0.9" y="28.6" font-family='"Liberation Sans", sans-serif' font-weight="bold" font-size="46" fill="#000">a</text>
<rect x="156.9" y="246.45" width="236.6" height="181.8" fill="#fff" stroke="#262626" stroke-width="1.25"/>
<g font-family='"Liberation Sans", sans-serif' font-size="33.4" fill="#000">
<text x="223.2" y="284">tomo</text>
<text x="223.2" y="328.2">verif</text>
<text x="223.2" y="373">tomo fitting</text>
<text x="223.2" y="417.3">verif fitting</text>
</g>
<path d="M190.4 267.7L191.8 269.6L193.7 271L191.8 272.4L190.4 274.3L189 272.4L187.1 271L189 269.6Z" fill="#f00"/>
<circle cx="190.4" cy="315.3" r="1.9" fill="none" stroke="#00f" stroke-width="1.7"/>
<line x1="162.1" y1="359.3" x2="219" y2="359.3" stroke="#000" stroke-width="4.4" stroke-dasharray="11.6 10.9"/>
<line x1="162.1" y1="403.6" x2="219" y2="403.6" stroke="#0ff" stroke-width="4.4" stroke-dasharray="11.6 10.9"/>
<g transform="translate(351 79.3) rotate(5.0)" font-family='"Liberation Serif", serif' fill="#000" font-size="39"><text x="0" y="0" font-style="italic">g</text><text transform="translate(17.8 7.4) rotate(7.0)" font-family='"Liberation Sans", sans-serif' font-size="25">tomo</text><path d="M79.3 -14.1H104.6 M79.3 -6.3H104.6" stroke="#000" stroke-width="1.7" fill="none"/><text x="105.3" y="0">-</text><text x="119" y="0">6.84</text><path d="M191.4 -19.6L209.4 -1.6 M191.4 -1.6L209.4 -19.6" stroke="#000" stroke-width="1.7" fill="none"/><text x="213.5" y="0">10</text><path d="M255.4 -21.6H271.2" stroke="#000" stroke-width="1.4" fill="none"/><text x="273.2" y="-14.2" font-size="28">5</text></g>
<g transform="translate(344.4 187.3) rotate(34.4)" font-family='"Liberation Serif", serif' fill="#000" font-size="39"><text x="0" y="0" font-style="italic">g</text><text transform="translate(17.8 8.6) rotate(0)" font-family='"Liberation Sans", sans-serif' font-size="25">verif</text><path d="M85.8 -14.1H111.1 M85.8 -6.3H111.1" stroke="#000" stroke-width="1.7" fill="none"/><text x="111.8" y="0">-</text><text x="125.5" y="0">7.35</text><path d="M197.1 -19.6L215.1 -1.6 M197.1 -1.6L215.1 -19.6" stroke="#000" stroke-width="1.7" fill="none"/><text x="219.2" y="0">10</text><path d="M259.6 -19.8H275.4" stroke="#000" stroke-width="1.4" fill="none"/><text x="277.4" y="-12.4" font-size="28">4</text></g>
<g font-family='"Liberation Serif", serif' fill="#000" font-size="42">
<text x="490.5" y="173.4" font-style="italic">δ</text>
<path d="M523.3 159H551.3M523.3 167.4H551.3" stroke="#000" stroke-width="1.8" fill="none"/>
<text x="565" y="173.4" font-style="italic">e</text>
<text x="584" y="159" font-style="italic" font-size="31">g</text>
<circle cx="603.2" cy="150.9" r="1.7" fill="#000"/>
<text x="608.5" y="159" font-style="italic" font-size="31">N</text>
</g>
<g id="plot-b">
<rect x="880.5" y="14.2" width="568.35" height="422.3" fill="none" stroke="#262626" stroke-width="1.3"/>
<path d="M892.6 436.5v-3.2 M892.6 14.2v3.2M902.8 436.5v-3.2 M902.8 14.2v3.2M911.5 436.5v-3.2 M911.5 14.2v3.2M919 436.5v-3.2 M919 14.2v3.2M925.6 436.5v-3.2 M925.6 14.2v3.2M931.5 436.5v-6.4 M931.5 14.2v6.4M970.4 436.5v-3.2 M970.4 14.2v3.2M993.2 436.5v-3.2 M993.2 14.2v3.2M1009.4 436.5v-3.2 M1009.4 14.2v3.2M1021.9 436.5v-3.2 M1021.9 14.2v3.2M1032.1 436.5v-3.2 M1032.1 14.2v3.2M1040.8 436.5v-3.2 M1040.8 14.2v3.2M1048.3 436.5v-3.2 M1048.3 14.2v3.2M1054.9 436.5v-3.2 M1054.9 14.2v3.2M1060.8 436.5v-6.4 M1060.8 14.2v6.4M1099.7 436.5v-3.2 M1099.7 14.2v3.2M1122.5 436.5v-3.2 M1122.5 14.2v3.2M1138.7 436.5v-3.2 M1138.7 14.2v3.2M1151.2 436.5v-3.2 M1151.2 14.2v3.2M1161.4 436.5v-3.2 M1161.4 14.2v3.2M1170.1 436.5v-3.2 M1170.1 14.2v3.2M1177.6 436.5v-3.2 M1177.6 14.2v3.2M1184.2 436.5v-3.2 M1184.2 14.2v3.2M1190.1 436.5v-6.4 M1190.1 14.2v6.4M1229 436.5v-3.2 M1229 14.2v3.2M1251.8 436.5v-3.2 M1251.8 14.2v3.2M1268 436.5v-3.2 M1268 14.2v3.2M1280.5 436.5v-3.2 M1280.5 14.2v3.2M1290.7 436.5v-3.2 M1290.7 14.2v3.2M1299.4 436.5v-3.2 M1299.4 14.2v3.2M1306.9 436.5v-3.2 M1306.9 14.2v3.2M1313.5 436.5v-3.2 M1313.5 14.2v3.2M1319.4 436.5v-6.4 M1319.4 14.2v6.4M1358.4 436.5v-3.2 M1358.4 14.2v3.2M1381.1 436.5v-3.2 M1381.1 14.2v3.2M1397.3 436.5v-3.2 M1397.3 14.2v3.2M1409.8 436.5v-3.2 M1409.8 14.2v3.2M1420.1 436.5v-3.2 M1420.1 14.2v3.2M1428.7 436.5v-3.2 M1428.7 14.2v3.2M1436.2 436.5v-3.2 M1436.2 14.2v3.2M1442.8 436.5v-3.2 M1442.8 14.2v3.2M880.5 429.4h3.2 M1448.8 429.4h-3.2M880.5 415.3h3.2 M1448.8 415.3h-3.2M880.5 403.4h3.2 M1448.8 403.4h-3.2M880.5 393.1h3.2 M1448.8 393.1h-3.2M880.5 384h3.2 M1448.8 384h-3.2M880.5 375.9h6.4 M1448.8 375.9h-6.4M880.5 322.4h3.2 M1448.8 322.4h-3.2M880.5 291.1h3.2 M1448.8 291.1h-3.2M880.5 269h3.2 M1448.8 269h-3.2M880.5 251.7h3.2 M1448.8 251.7h-3.2M880.5 237.7h3.2 M1448.8 237.7h-3.2M880.5 225.8h3.2 M1448.8 225.8h-3.2M880.5 215.5h3.2 M1448.8 215.5h-3.2M880.5 206.4h3.2 M1448.8 206.4h-3.2M880.5 198.3h6.4 M1448.8 198.3h-6.4M880.5 144.8h3.2 M1448.8 144.8h-3.2M880.5 113.5h3.2 M1448.8 113.5h-3.2M880.5 91.3h3.2 M1448.8 91.3h-3.2M880.5 74.1h3.2 M1448.8 74.1h-3.2M880.5 60.1h3.2 M1448.8 60.1h-3.2M880.5 48.2h3.2 M1448.8 48.2h-3.2M880.5 37.9h3.2 M1448.8 37.9h-3.2M880.5 28.8h3.2 M1448.8 28.8h-3.2M880.5 20.6h6.4 M1448.8 20.6h-6.4" stroke="#262626" stroke-width="1.15" fill="none"/>
<path d="M925.6 17.5L927 19.4L928.9 20.8L927 22.2L925.6 24.1L924.1 22.2L922.3 20.8L924.1 19.4ZM964.5 17.5L966 19.4L967.8 20.8L966 22.2L964.5 24.1L963.1 22.2L961.2 20.8L963.1 19.4ZM987.3 17.5L988.7 19.4L990.6 20.8L988.7 22.2L987.3 24.1L985.8 22.2L984 20.8L985.8 19.4ZM1003.4 92.1L1004.9 94L1006.7 95.4L1004.9 96.9L1003.4 98.7L1002 96.9L1000.1 95.4L1002 94ZM1016 120.4L1017.4 122.2L1019.3 123.7L1017.4 125.2L1016 127L1014.5 125.2L1012.7 123.7L1014.5 122.2ZM1026.2 109.4L1027.7 111.2L1029.5 112.7L1027.7 114.2L1026.2 116L1024.8 114.2L1022.9 112.7L1024.8 111.2ZM1034.9 129.4L1036.3 131.2L1038.2 132.7L1036.3 134.1L1034.9 136L1033.4 134.1L1031.6 132.7L1033.4 131.2ZM1042.4 132.1L1043.8 134L1045.7 135.4L1043.8 136.8L1042.4 138.7L1040.9 136.8L1039.1 135.4L1040.9 134ZM1049 146.7L1050.4 148.6L1052.3 150L1050.4 151.4L1049 153.3L1047.5 151.4L1045.7 150L1047.5 148.6ZM1054.9 153.4L1056.3 155.2L1058.2 156.7L1056.3 158.1L1054.9 160L1053.4 158.1L1051.6 156.7L1053.4 155.2ZM1060.2 143.5L1061.7 145.4L1063.5 146.8L1061.7 148.2L1060.2 150.1L1058.8 148.2L1056.9 146.8L1058.8 145.4ZM1065.1 147.9L1066.6 149.8L1068.4 151.2L1066.6 152.6L1065.1 154.5L1063.7 152.6L1061.8 151.2L1063.7 149.8ZM1069.6 153L1071.1 154.9L1072.9 156.3L1071.1 157.8L1069.6 159.6L1068.2 157.8L1066.3 156.3L1068.2 154.9ZM1073.8 143.5L1075.2 145.4L1077.1 146.8L1075.2 148.2L1073.8 150.1L1072.3 148.2L1070.5 146.8L1072.3 145.4ZM1077.7 149.4L1079.1 151.2L1081 152.7L1079.1 154.1L1077.7 156L1076.2 154.1L1074.4 152.7L1076.2 151.2ZM1081.3 163.2L1082.7 165.1L1084.6 166.5L1082.7 167.9L1081.3 169.8L1079.8 167.9L1078 166.5L1079.8 165.1ZM1084.7 164L1086.1 165.9L1088 167.3L1086.1 168.8L1084.7 170.6L1083.2 168.8L1081.4 167.3L1083.2 165.9ZM1087.9 153.4L1089.4 155.2L1091.2 156.7L1089.4 158.1L1087.9 160L1086.5 158.1L1084.6 156.7L1086.5 155.2ZM1090.9 163.2L1092.4 165.1L1094.2 166.5L1092.4 167.9L1090.9 169.8L1089.5 167.9L1087.6 166.5L1089.5 165.1ZM1093.8 164.4L1095.3 166.2L1097.1 167.7L1095.3 169.1L1093.8 171L1092.4 169.1L1090.5 167.7L1092.4 166.2ZM1096.6 166.3L1098 168.2L1099.9 169.6L1098 171L1096.6 172.9L1095.1 171L1093.3 169.6L1095.1 168.2ZM1099.2 179.7L1100.6 181.6L1102.5 183L1100.6 184.4L1099.2 186.3L1097.7 184.4L1095.9 183L1097.7 181.6ZM1101.7 198.2L1103.1 200.1L1105 201.5L1103.1 202.9L1101.7 204.8L1100.2 202.9L1098.4 201.5L1100.2 200.1ZM1104.1 187.5L1105.5 189.4L1107.4 190.8L1105.5 192.2L1104.1 194.1L1102.6 192.2L1100.8 190.8L1102.6 189.4ZM1106.4 189.1L1107.8 191L1109.7 192.4L1107.8 193.8L1106.4 195.7L1104.9 193.8L1103.1 192.4L1104.9 191ZM1108.6 196.2L1110 198.1L1111.9 199.5L1110 200.9L1108.6 202.8L1107.1 200.9L1105.3 199.5L1107.1 198.1ZM1110.7 198.2L1112.1 200.1L1114 201.5L1112.1 202.9L1110.7 204.8L1109.2 202.9L1107.4 201.5L1109.2 200.1ZM1112.7 205.2L1114.2 207.1L1116 208.5L1114.2 209.9L1112.7 211.8L1111.3 209.9L1109.4 208.5L1111.3 207.1ZM1114.7 208L1116.1 209.9L1118 211.3L1116.1 212.8L1114.7 214.6L1113.2 212.8L1111.4 211.3L1113.2 209.9ZM1116.6 206L1118 207.9L1119.9 209.3L1118 210.8L1116.6 212.6L1115.1 210.8L1113.3 209.3L1115.1 207.9ZM1118.4 198.2L1119.9 200.1L1121.7 201.5L1119.9 202.9L1118.4 204.8L1117 202.9L1115.1 201.5L1117 200.1ZM1120.2 195.4L1121.7 197.2L1123.5 198.7L1121.7 200.1L1120.2 202L1118.8 200.1L1116.9 198.7L1118.8 197.2ZM1121.9 206.4L1123.4 208.2L1125.2 209.7L1123.4 211.1L1121.9 213L1120.5 211.1L1118.6 209.7L1120.5 208.2ZM1123.6 214.4L1125.1 216.3L1126.9 217.7L1125.1 219.2L1123.6 221L1122.2 219.2L1120.3 217.7L1122.2 216.3ZM1125.2 223.7L1126.7 225.6L1128.5 227L1126.7 228.5L1125.2 230.3L1123.8 228.5L1121.9 227L1123.8 225.6ZM1126.8 227.4L1128.3 229.3L1130.1 230.7L1128.3 232.2L1126.8 234L1125.4 232.2L1123.5 230.7L1125.4 229.3ZM1128.4 220.3L1129.8 222.2L1131.7 223.6L1129.8 225.1L1128.4 226.9L1126.9 225.1L1125.1 223.6L1126.9 222.2ZM1129.9 228L1131.3 229.9L1133.2 231.3L1131.3 232.8L1129.9 234.6L1128.4 232.8L1126.6 231.3L1128.4 229.9ZM1131.3 225.9L1132.8 227.7L1134.6 229.2L1132.8 230.6L1131.3 232.5L1129.9 230.6L1128 229.2L1129.9 227.7ZM1132.7 231.7L1134.2 233.5L1136 235L1134.2 236.4L1132.7 238.3L1131.3 236.4L1129.4 235L1131.3 233.5ZM1134.1 238.9L1135.6 240.7L1137.4 242.2L1135.6 243.6L1134.1 245.5L1132.7 243.6L1130.8 242.2L1132.7 240.7ZM1135.5 233.5L1136.9 235.3L1138.8 236.8L1136.9 238.2L1135.5 240.1L1134 238.2L1132.2 236.8L1134 235.3ZM1136.8 241.5L1138.3 243.3L1140.1 244.8L1138.3 246.2L1136.8 248.1L1135.4 246.2L1133.5 244.8L1135.4 243.3ZM1138.1 241.1L1139.5 243L1141.4 244.4L1139.5 245.9L1138.1 247.7L1136.6 245.9L1134.8 244.4L1136.6 243ZM1139.4 247.8L1140.8 249.6L1142.7 251.1L1140.8 252.5L1139.4 254.4L1137.9 252.5L1136.1 251.1L1137.9 249.6ZM1140.6 251L1142 252.8L1143.9 254.3L1142 255.7L1140.6 257.6L1139.1 255.7L1137.3 254.3L1139.1 252.8ZM1141.8 244.8L1143.3 246.6L1145.1 248.1L1143.3 249.5L1141.8 251.4L1140.4 249.5L1138.5 248.1L1140.4 246.6ZM1143 245.2L1144.4 247.1L1146.3 248.5L1144.4 250L1143 251.8L1141.5 250L1139.7 248.5L1141.5 247.1ZM1144.1 238L1145.6 239.8L1147.4 241.3L1145.6 242.7L1144.1 244.6L1142.7 242.7L1140.8 241.3L1142.7 239.8ZM1145.3 232.4L1146.7 234.2L1148.6 235.7L1146.7 237.1L1145.3 239L1143.8 237.1L1142 235.7L1143.8 234.2ZM1146.4 229.3L1147.8 231.1L1149.7 232.6L1147.8 234L1146.4 235.9L1144.9 234L1143.1 232.6L1144.9 231.1ZM1147.5 228.1L1148.9 229.9L1150.8 231.4L1148.9 232.8L1147.5 234.7L1146 232.8L1144.2 231.4L1146 229.9ZM1148.5 223.5L1150 225.3L1151.8 226.8L1150 228.2L1148.5 230.1L1147.1 228.2L1145.2 226.8L1147.1 225.3ZM1149.6 220.4L1151 222.3L1152.9 223.7L1151 225.2L1149.6 227L1148.1 225.2L1146.3 223.7L1148.1 222.3ZM1150.6 217.2L1152.1 219.1L1153.9 220.5L1152.1 222L1150.6 223.8L1149.2 222L1147.3 220.5L1149.2 219.1ZM1151.6 218.9L1153.1 220.7L1154.9 222.2L1153.1 223.6L1151.6 225.5L1150.2 223.6L1148.3 222.2L1150.2 220.7ZM1152.6 223.2L1154.1 225L1155.9 226.5L1154.1 227.9L1152.6 229.8L1151.2 227.9L1149.3 226.5L1151.2 225ZM1153.6 231.5L1155.1 233.3L1156.9 234.8L1155.1 236.2L1153.6 238.1L1152.2 236.2L1150.3 234.8L1152.2 233.3ZM1154.6 220.8L1156 222.6L1157.9 224.1L1156 225.5L1154.6 227.4L1153.1 225.5L1151.3 224.1L1153.1 222.6ZM1155.5 224.4L1157 226.2L1158.8 227.7L1157 229.1L1155.5 231L1154.1 229.1L1152.2 227.7L1154.1 226.2ZM1156.4 224.4L1157.9 226.3L1159.7 227.7L1157.9 229.2L1156.4 231L1155 229.2L1153.1 227.7L1155 226.3ZM1157.4 221.1L1158.8 223L1160.7 224.4L1158.8 225.9L1157.4 227.7L1155.9 225.9L1154.1 224.4L1155.9 223ZM1158.3 231.5L1159.7 233.4L1161.6 234.8L1159.7 236.3L1158.3 238.1L1156.8 236.3L1155 234.8L1156.8 233.4ZM1159.1 231L1160.6 232.8L1162.4 234.3L1160.6 235.7L1159.1 237.6L1157.7 235.7L1155.8 234.3L1157.7 232.8ZM1160 229.5L1161.5 231.4L1163.3 232.8L1161.5 234.3L1160 236.1L1158.6 234.3L1156.7 232.8L1158.6 231.4ZM1160.9 221L1162.3 222.8L1164.2 224.3L1162.3 225.7L1160.9 227.6L1159.4 225.7L1157.6 224.3L1159.4 222.8ZM1161.7 220.3L1163.2 222.1L1165 223.6L1163.2 225L1161.7 226.9L1160.3 225L1158.4 223.6L1160.3 222.1ZM1162.5 219.4L1164 221.2L1165.8 222.7L1164 224.1L1162.5 226L1161.1 224.1L1159.2 222.7L1161.1 221.2ZM1163.4 223.7L1164.8 225.6L1166.7 227L1164.8 228.5L1163.4 230.3L1161.9 228.5L1160.1 227L1161.9 225.6ZM1164.2 218.9L1165.6 220.8L1167.5 222.2L1165.6 223.7L1164.2 225.5L1162.7 223.7L1160.9 222.2L1162.7 220.8ZM1165 215.9L1166.4 217.7L1168.3 219.2L1166.4 220.6L1165 222.5L1163.5 220.6L1161.7 219.2L1163.5 217.7ZM1165.8 215.5L1167.2 217.3L1169.1 218.8L1167.2 220.2L1165.8 222.1L1164.3 220.2L1162.5 218.8L1164.3 217.3ZM1166.5 213.2L1168 215L1169.8 216.5L1168 217.9L1166.5 219.8L1165.1 217.9L1163.2 216.5L1165.1 215ZM1167.3 210.1L1168.7 212L1170.6 213.4L1168.7 214.9L1167.3 216.7L1165.8 214.9L1164 213.4L1165.8 212ZM1168 209.7L1169.5 211.5L1171.3 213L1169.5 214.4L1168 216.3L1166.6 214.4L1164.7 213L1166.6 211.5ZM1168.8 216.8L1170.2 218.6L1172.1 220.1L1170.2 221.5L1168.8 223.4L1167.3 221.5L1165.5 220.1L1167.3 218.6ZM1169.5 214.6L1171 216.4L1172.8 217.9L1171 219.3L1169.5 221.2L1168.1 219.3L1166.2 217.9L1168.1 216.4ZM1170.2 223.1L1171.7 224.9L1173.5 226.4L1171.7 227.8L1170.2 229.7L1168.8 227.8L1166.9 226.4L1168.8 224.9ZM1171 219.5L1172.4 221.4L1174.3 222.8L1172.4 224.3L1171 226.1L1169.5 224.3L1167.7 222.8L1169.5 221.4ZM1171.7 222.3L1173.1 224.1L1175 225.6L1173.1 227L1171.7 228.9L1170.2 227L1168.4 225.6L1170.2 224.1ZM1172.4 223.5L1173.8 225.3L1175.7 226.8L1173.8 228.2L1172.4 230.1L1170.9 228.2L1169.1 226.8L1170.9 225.3ZM1173.1 219.5L1174.5 221.3L1176.4 222.8L1174.5 224.2L1173.1 226.1L1171.6 224.2L1169.8 222.8L1171.6 221.3ZM1173.7 220L1175.2 221.8L1177 223.3L1175.2 224.7L1173.7 226.6L1172.3 224.7L1170.4 223.3L1172.3 221.8ZM1174.4 224.1L1175.9 226L1177.7 227.4L1175.9 228.9L1174.4 230.7L1173 228.9L1171.1 227.4L1173 226ZM1175.1 222.3L1176.5 224.2L1178.4 225.6L1176.5 227.1L1175.1 228.9L1173.6 227.1L1171.8 225.6L1173.6 224.2ZM1175.7 220.4L1177.2 222.2L1179 223.7L1177.2 225.1L1175.7 227L1174.3 225.1L1172.4 223.7L1174.3 222.2ZM1176.4 217.5L1177.8 219.3L1179.7 220.8L1177.8 222.2L1176.4 224.1L1174.9 222.2L1173.1 220.8L1174.9 219.3ZM1177 218.7L1178.5 220.6L1180.3 222L1178.5 223.5L1177 225.3L1175.6 223.5L1173.7 222L1175.6 220.6ZM1177.7 217.7L1179.1 219.6L1181 221L1179.1 222.5L1177.7 224.3L1176.2 222.5L1174.4 221L1176.2 219.6ZM1178.3 213.5L1179.7 215.3L1181.6 216.8L1179.7 218.2L1178.3 220.1L1176.8 218.2L1175 216.8L1176.8 215.3ZM1178.9 217.6L1180.4 219.4L1182.2 220.9L1180.4 222.3L1178.9 224.2L1177.5 222.3L1175.6 220.9L1177.5 219.4ZM1179.5 214.1L1181 215.9L1182.8 217.4L1181 218.8L1179.5 220.7L1178.1 218.8L1176.2 217.4L1178.1 215.9ZM1180.1 222.7L1181.6 224.5L1183.4 226L1181.6 227.4L1180.1 229.3L1178.7 227.4L1176.8 226L1178.7 224.5ZM1180.7 222.8L1182.2 224.7L1184 226.1L1182.2 227.6L1180.7 229.4L1179.3 227.6L1177.4 226.1L1179.3 224.7ZM1181.3 228.2L1182.8 230.1L1184.6 231.5L1182.8 233L1181.3 234.8L1179.9 233L1178 231.5L1179.9 230.1ZM1181.9 230L1183.4 231.8L1185.2 233.3L1183.4 234.7L1181.9 236.6L1180.5 234.7L1178.6 233.3L1180.5 231.8ZM1182.5 229.4L1183.9 231.3L1185.8 232.7L1183.9 234.2L1182.5 236L1181 234.2L1179.2 232.7L1181 231.3ZM1183.1 230.1L1184.5 232L1186.4 233.4L1184.5 234.9L1183.1 236.7L1181.6 234.9L1179.8 233.4L1181.6 232ZM1183.6 240.8L1185.1 242.7L1186.9 244.1L1185.1 245.6L1183.6 247.4L1182.2 245.6L1180.3 244.1L1182.2 242.7ZM1184.2 236.4L1185.7 238.2L1187.5 239.7L1185.7 241.1L1184.2 243L1182.8 241.1L1180.9 239.7L1182.8 238.2ZM1184.8 240.6L1186.2 242.5L1188.1 243.9L1186.2 245.4L1184.8 247.2L1183.3 245.4L1181.5 243.9L1183.3 242.5ZM1185.3 236.7L1186.8 238.6L1188.6 240L1186.8 241.5L1185.3 243.3L1183.9 241.5L1182 240L1183.9 238.6ZM1185.9 233.6L1187.3 235.4L1189.2 236.9L1187.3 238.3L1185.9 240.2L1184.4 238.3L1182.6 236.9L1184.4 235.4ZM1186.4 235.8L1187.9 237.6L1189.7 239.1L1187.9 240.5L1186.4 242.4L1185 240.5L1183.1 239.1L1185 237.6ZM1186.9 236.5L1188.4 238.3L1190.2 239.8L1188.4 241.2L1186.9 243.1L1185.5 241.2L1183.6 239.8L1185.5 238.3ZM1187.5 228.6L1188.9 230.5L1190.8 231.9L1188.9 233.4L1187.5 235.2L1186 233.4L1184.2 231.9L1186 230.5ZM1188 232.2L1189.5 234.1L1191.3 235.5L1189.5 237L1188 238.8L1186.6 237L1184.7 235.5L1186.6 234.1ZM1188.5 231.4L1190 233.3L1191.8 234.7L1190 236.2L1188.5 238L1187.1 236.2L1185.2 234.7L1187.1 233.3ZM1189 236.1L1190.5 237.9L1192.3 239.4L1190.5 240.8L1189 242.7L1187.6 240.8L1185.7 239.4L1187.6 237.9ZM1189.6 237L1191 238.8L1192.9 240.3L1191 241.7L1189.6 243.6L1188.1 241.7L1186.3 240.3L1188.1 238.8ZM1190.1 236.2L1191.5 238.1L1193.4 239.5L1191.5 241L1190.1 242.8L1188.6 241L1186.8 239.5L1188.6 238.1ZM1190.6 235.3L1192 237.1L1193.9 238.6L1192 240L1190.6 241.9L1189.1 240L1187.3 238.6L1189.1 237.1ZM1191.1 234.8L1192.5 236.7L1194.4 238.1L1192.5 239.6L1191.1 241.4L1189.6 239.6L1187.8 238.1L1189.6 236.7ZM1191.6 240.1L1193 242L1194.9 243.4L1193 244.9L1191.6 246.7L1190.1 244.9L1188.3 243.4L1190.1 242ZM1192.1 234.7L1193.5 236.5L1195.4 238L1193.5 239.4L1192.1 241.3L1190.6 239.4L1188.8 238L1190.6 236.5ZM1192.5 230.4L1194 232.3L1195.8 233.7L1194 235.2L1192.5 237L1191.1 235.2L1189.2 233.7L1191.1 232.3ZM1193 234.8L1194.5 236.7L1196.3 238.1L1194.5 239.6L1193 241.4L1191.6 239.6L1189.7 238.1L1191.6 236.7ZM1193.5 231.1L1194.9 233L1196.8 234.4L1194.9 235.9L1193.5 237.7L1192 235.9L1190.2 234.4L1192 233ZM1194 221.2L1195.4 223L1197.3 224.5L1195.4 225.9L1194 227.8L1192.5 225.9L1190.7 224.5L1192.5 223ZM1194.4 215.5L1195.9 217.3L1197.7 218.8L1195.9 220.2L1194.4 222.1L1193 220.2L1191.1 218.8L1193 217.3ZM1194.9 215L1196.4 216.8L1198.2 218.3L1196.4 219.7L1194.9 221.6L1193.5 219.7L1191.6 218.3L1193.5 216.8ZM1195.4 213.1L1196.8 215L1198.7 216.4L1196.8 217.9L1195.4 219.7L1193.9 217.9L1192.1 216.4L1193.9 215ZM1195.8 214.5L1197.3 216.3L1199.1 217.8L1197.3 219.2L1195.8 221.1L1194.4 219.2L1192.5 217.8L1194.4 216.3ZM1196.3 211.3L1197.7 213.1L1199.6 214.6L1197.7 216L1196.3 217.9L1194.8 216L1193 214.6L1194.8 213.1ZM1196.7 211.7L1198.2 213.6L1200 215L1198.2 216.5L1196.7 218.3L1195.3 216.5L1193.4 215L1195.3 213.6ZM1197.2 211L1198.6 212.8L1200.5 214.3L1198.6 215.7L1197.2 217.6L1195.7 215.7L1193.9 214.3L1195.7 212.8ZM1197.6 213.1L1199.1 214.9L1200.9 216.4L1199.1 217.8L1197.6 219.7L1196.2 217.8L1194.3 216.4L1196.2 214.9ZM1198.1 215.4L1199.5 217.3L1201.4 218.7L1199.5 220.2L1198.1 222L1196.6 220.2L1194.8 218.7L1196.6 217.3ZM1198.5 213.7L1200 215.5L1201.8 217L1200 218.4L1198.5 220.3L1197.1 218.4L1195.2 217L1197.1 215.5ZM1198.9 210.2L1200.4 212L1202.2 213.5L1200.4 214.9L1198.9 216.8L1197.5 214.9L1195.6 213.5L1197.5 212ZM1199.4 209.7L1200.8 211.5L1202.7 213L1200.8 214.4L1199.4 216.3L1197.9 214.4L1196.1 213L1197.9 211.5ZM1199.8 210.2L1201.2 212L1203.1 213.5L1201.2 214.9L1199.8 216.8L1198.3 214.9L1196.5 213.5L1198.3 212ZM1200.2 208.5L1201.7 210.3L1203.5 211.8L1201.7 213.2L1200.2 215.1L1198.8 213.2L1196.9 211.8L1198.8 210.3ZM1200.6 209.5L1202.1 211.3L1203.9 212.8L1202.1 214.2L1200.6 216.1L1199.2 214.2L1197.3 212.8L1199.2 211.3ZM1201.1 208.4L1202.5 210.2L1204.4 211.7L1202.5 213.1L1201.1 215L1199.6 213.1L1197.8 211.7L1199.6 210.2ZM1201.5 211.7L1202.9 213.6L1204.8 215L1202.9 216.5L1201.5 218.3L1200 216.5L1198.2 215L1200 213.6ZM1201.9 219.3L1203.3 221.1L1205.2 222.6L1203.3 224L1201.9 225.9L1200.4 224L1198.6 222.6L1200.4 221.1ZM1202.3 213L1203.7 214.9L1205.6 216.3L1203.7 217.8L1202.3 219.6L1200.8 217.8L1199 216.3L1200.8 214.9ZM1202.7 217.8L1204.1 219.6L1206 221.1L1204.1 222.5L1202.7 224.4L1201.2 222.5L1199.4 221.1L1201.2 219.6ZM1203.1 220.5L1204.5 222.3L1206.4 223.8L1204.5 225.2L1203.1 227.1L1201.6 225.2L1199.8 223.8L1201.6 222.3ZM1203.5 224.2L1204.9 226.1L1206.8 227.5L1204.9 229L1203.5 230.8L1202 229L1200.2 227.5L1202 226.1ZM1203.9 220L1205.3 221.9L1207.2 223.3L1205.3 224.8L1203.9 226.6L1202.4 224.8L1200.6 223.3L1202.4 221.9ZM1204.3 222.1L1205.7 224L1207.6 225.4L1205.7 226.9L1204.3 228.7L1202.8 226.9L1201 225.4L1202.8 224ZM1204.7 223.5L1206.1 225.4L1208 226.8L1206.1 228.3L1204.7 230.1L1203.2 228.3L1201.4 226.8L1203.2 225.4ZM1205.1 226.5L1206.5 228.3L1208.4 229.8L1206.5 231.2L1205.1 233.1L1203.6 231.2L1201.8 229.8L1203.6 228.3ZM1205.5 228.4L1206.9 230.2L1208.8 231.7L1206.9 233.1L1205.5 235L1204 233.1L1202.2 231.7L1204 230.2ZM1205.8 234.4L1207.3 236.3L1209.1 237.7L1207.3 239.2L1205.8 241L1204.4 239.2L1202.5 237.7L1204.4 236.3ZM1206.2 234.9L1207.7 236.8L1209.5 238.2L1207.7 239.7L1206.2 241.5L1204.8 239.7L1202.9 238.2L1204.8 236.8ZM1206.6 236.6L1208 238.5L1209.9 239.9L1208 241.4L1206.6 243.2L1205.1 241.4L1203.3 239.9L1205.1 238.5ZM1207 230.4L1208.4 232.3L1210.3 233.7L1208.4 235.2L1207 237L1205.5 235.2L1203.7 233.7L1205.5 232.3ZM1207.3 230.5L1208.8 232.3L1210.6 233.8L1208.8 235.2L1207.3 237.1L1205.9 235.2L1204 233.8L1205.9 232.3ZM1207.7 235.9L1209.2 237.7L1211 239.2L1209.2 240.6L1207.7 242.5L1206.3 240.6L1204.4 239.2L1206.3 237.7ZM1208.1 236.8L1209.5 238.6L1211.4 240.1L1209.5 241.5L1208.1 243.4L1206.6 241.5L1204.8 240.1L1206.6 238.6ZM1208.5 232.3L1209.9 234.1L1211.8 235.6L1209.9 237L1208.5 238.9L1207 237L1205.2 235.6L1207 234.1ZM1208.8 232.6L1210.3 234.4L1212.1 235.9L1210.3 237.3L1208.8 239.2L1207.4 237.3L1205.5 235.9L1207.4 234.4ZM1209.2 226.5L1210.6 228.4L1212.5 229.8L1210.6 231.3L1209.2 233.1L1207.7 231.3L1205.9 229.8L1207.7 228.4ZM1209.5 229.4L1211 231.2L1212.8 232.7L1211 234.1L1209.5 236L1208.1 234.1L1206.2 232.7L1208.1 231.2ZM1209.9 233.5L1211.3 235.3L1213.2 236.8L1211.3 238.2L1209.9 240.1L1208.4 238.2L1206.6 236.8L1208.4 235.3ZM1210.2 231.8L1211.7 233.7L1213.5 235.1L1211.7 236.6L1210.2 238.4L1208.8 236.6L1206.9 235.1L1208.8 233.7ZM1210.6 231.7L1212 233.6L1213.9 235L1212 236.5L1210.6 238.3L1209.1 236.5L1207.3 235L1209.1 233.6ZM1210.9 232.4L1212.4 234.3L1214.2 235.7L1212.4 237.2L1210.9 239L1209.5 237.2L1207.6 235.7L1209.5 234.3ZM1211.3 225.5L1212.7 227.4L1214.6 228.8L1212.7 230.3L1211.3 232.1L1209.8 230.3L1208 228.8L1209.8 227.4ZM1211.6 223.9L1213.1 225.8L1214.9 227.2L1213.1 228.7L1211.6 230.5L1210.2 228.7L1208.3 227.2L1210.2 225.8ZM1212 224L1213.4 225.9L1215.3 227.3L1213.4 228.8L1212 230.6L1210.5 228.8L1208.7 227.3L1210.5 225.9ZM1212.3 227L1213.8 228.8L1215.6 230.3L1213.8 231.7L1212.3 233.6L1210.9 231.7L1209 230.3L1210.9 228.8ZM1212.7 228.1L1214.1 229.9L1216 231.4L1214.1 232.8L1212.7 234.7L1211.2 232.8L1209.4 231.4L1211.2 229.9ZM1213 230.1L1214.5 231.9L1216.3 233.4L1214.5 234.8L1213 236.7L1211.6 234.8L1209.7 233.4L1211.6 231.9ZM1213.3 227.8L1214.8 229.6L1216.6 231.1L1214.8 232.5L1213.3 234.4L1211.9 232.5L1210 231.1L1211.9 229.6ZM1213.7 226.9L1215.1 228.7L1217 230.2L1215.1 231.6L1213.7 233.5L1212.2 231.6L1210.4 230.2L1212.2 228.7ZM1214 227.8L1215.5 229.7L1217.3 231.1L1215.5 232.6L1214 234.4L1212.6 232.6L1210.7 231.1L1212.6 229.7ZM1214.3 224.9L1215.8 226.8L1217.6 228.2L1215.8 229.7L1214.3 231.5L1212.9 229.7L1211 228.2L1212.9 226.8ZM1214.7 225.7L1216.1 227.5L1218 229L1216.1 230.4L1214.7 232.3L1213.2 230.4L1211.4 229L1213.2 227.5ZM1215 220.9L1216.4 222.8L1218.3 224.2L1216.4 225.7L1215 227.5L1213.5 225.7L1211.7 224.2L1213.5 222.8ZM1215.3 226.2L1216.8 228.1L1218.6 229.5L1216.8 231L1215.3 232.8L1213.9 231L1212 229.5L1213.9 228.1ZM1215.6 223.7L1217.1 225.5L1218.9 227L1217.1 228.4L1215.6 230.3L1214.2 228.4L1212.3 227L1214.2 225.5ZM1216 226.6L1217.4 228.5L1219.3 229.9L1217.4 231.4L1216 233.2L1214.5 231.4L1212.7 229.9L1214.5 228.5ZM1216.3 225.3L1217.7 227.2L1219.6 228.6L1217.7 230.1L1216.3 231.9L1214.8 230.1L1213 228.6L1214.8 227.2ZM1216.6 223.7L1218 225.5L1219.9 227L1218 228.4L1216.6 230.3L1215.1 228.4L1213.3 227L1215.1 225.5ZM1216.9 222.3L1218.3 224.1L1220.2 225.6L1218.3 227L1216.9 228.9L1215.4 227L1213.6 225.6L1215.4 224.1ZM1217.2 222L1218.7 223.9L1220.5 225.3L1218.7 226.8L1217.2 228.6L1215.8 226.8L1213.9 225.3L1215.8 223.9ZM1217.5 222.9L1219 224.8L1220.8 226.2L1219 227.7L1217.5 229.5L1216.1 227.7L1214.2 226.2L1216.1 224.8ZM1217.8 222.4L1219.3 224.2L1221.1 225.7L1219.3 227.1L1217.8 229L1216.4 227.1L1214.5 225.7L1216.4 224.2ZM1218.1 218.9L1219.6 220.8L1221.4 222.2L1219.6 223.7L1218.1 225.5L1216.7 223.7L1214.8 222.2L1216.7 220.8ZM1218.4 217.9L1219.9 219.8L1221.7 221.2L1219.9 222.7L1218.4 224.5L1217 222.7L1215.1 221.2L1217 219.8ZM1218.8 219.2L1220.2 221L1222.1 222.5L1220.2 223.9L1218.8 225.8L1217.3 223.9L1215.5 222.5L1217.3 221ZM1219.1 218.6L1220.5 220.5L1222.4 221.9L1220.5 223.4L1219.1 225.2L1217.6 223.4L1215.8 221.9L1217.6 220.5ZM1219.4 216.9L1220.8 218.8L1222.7 220.2L1220.8 221.7L1219.4 223.5L1217.9 221.7L1216.1 220.2L1217.9 218.8ZM1219.7 215.4L1221.1 217.3L1223 218.7L1221.1 220.2L1219.7 222L1218.2 220.2L1216.4 218.7L1218.2 217.3ZM1220 216.3L1221.4 218.2L1223.3 219.6L1221.4 221.1L1220 222.9L1218.5 221.1L1216.7 219.6L1218.5 218.2ZM1220.2 213L1221.7 214.8L1223.5 216.3L1221.7 217.7L1220.2 219.6L1218.8 217.7L1216.9 216.3L1218.8 214.8ZM1220.5 213.6L1222 215.4L1223.8 216.9L1222 218.3L1220.5 220.2L1219.1 218.3L1217.2 216.9L1219.1 215.4ZM1220.8 213.6L1222.3 215.5L1224.1 216.9L1222.3 218.4L1220.8 220.2L1219.4 218.4L1217.5 216.9L1219.4 215.5ZM1221.1 215.2L1222.6 217L1224.4 218.5L1222.6 219.9L1221.1 221.8L1219.7 219.9L1217.8 218.5L1219.7 217ZM1221.4 213.1L1222.9 214.9L1224.7 216.4L1222.9 217.8L1221.4 219.7L1220 217.8L1218.1 216.4L1220 214.9ZM1221.7 213.5L1223.2 215.3L1225 216.8L1223.2 218.2L1221.7 220.1L1220.3 218.2L1218.4 216.8L1220.3 215.3ZM1222 211L1223.4 212.8L1225.3 214.3L1223.4 215.7L1222 217.6L1220.5 215.7L1218.7 214.3L1220.5 212.8ZM1222.3 209.2L1223.7 211.1L1225.6 212.5L1223.7 214L1222.3 215.8L1220.8 214L1219 212.5L1220.8 211.1ZM1222.6 208.6L1224 210.5L1225.9 211.9L1224 213.4L1222.6 215.2L1221.1 213.4L1219.3 211.9L1221.1 210.5ZM1222.8 211.2L1224.3 213L1226.1 214.5L1224.3 215.9L1222.8 217.8L1221.4 215.9L1219.5 214.5L1221.4 213ZM1223.1 209.4L1224.6 211.2L1226.4 212.7L1224.6 214.1L1223.1 216L1221.7 214.1L1219.8 212.7L1221.7 211.2ZM1223.4 207.2L1224.9 209.1L1226.7 210.5L1224.9 212L1223.4 213.8L1222 212L1220.1 210.5L1222 209.1ZM1223.7 205.6L1225.1 207.4L1227 208.9L1225.1 210.3L1223.7 212.2L1222.2 210.3L1220.4 208.9L1222.2 207.4ZM1224 207.3L1225.4 209.2L1227.3 210.6L1225.4 212.1L1224 213.9L1222.5 212.1L1220.7 210.6L1222.5 209.2ZM1224.2 207.8L1225.7 209.6L1227.5 211.1L1225.7 212.5L1224.2 214.4L1222.8 212.5L1220.9 211.1L1222.8 209.6ZM1224.5 206.2L1226 208.1L1227.8 209.5L1226 211L1224.5 212.8L1223.1 211L1221.2 209.5L1223.1 208.1ZM1224.8 205.1L1226.2 207L1228.1 208.4L1226.2 209.9L1224.8 211.7L1223.3 209.9L1221.5 208.4L1223.3 207ZM1225.1 206.6L1226.5 208.5L1228.4 209.9L1226.5 211.4L1225.1 213.2L1223.6 211.4L1221.8 209.9L1223.6 208.5ZM1225.3 207.4L1226.8 209.3L1228.6 210.7L1226.8 212.2L1225.3 214L1223.9 212.2L1222 210.7L1223.9 209.3ZM1225.6 203.9L1227.1 205.8L1228.9 207.2L1227.1 208.7L1225.6 210.5L1224.2 208.7L1222.3 207.2L1224.2 205.8ZM1225.9 202.7L1227.3 204.5L1229.2 206L1227.3 207.4L1225.9 209.3L1224.4 207.4L1222.6 206L1224.4 204.5ZM1226.1 203.7L1227.6 205.5L1229.4 207L1227.6 208.4L1226.1 210.3L1224.7 208.4L1222.8 207L1224.7 205.5ZM1226.4 203.7L1227.9 205.6L1229.7 207L1227.9 208.5L1226.4 210.3L1225 208.5L1223.1 207L1225 205.6ZM1226.7 204.7L1228.1 206.5L1230 208L1228.1 209.4L1226.7 211.3L1225.2 209.4L1223.4 208L1225.2 206.5ZM1226.9 202.2L1228.4 204.1L1230.2 205.5L1228.4 207L1226.9 208.8L1225.5 207L1223.6 205.5L1225.5 204.1ZM1227.2 204.6L1228.6 206.5L1230.5 207.9L1228.6 209.4L1227.2 211.2L1225.7 209.4L1223.9 207.9L1225.7 206.5ZM1227.5 204.1L1228.9 206L1230.8 207.4L1228.9 208.9L1227.5 210.7L1226 208.9L1224.2 207.4L1226 206ZM1227.7 202.8L1229.2 204.7L1231 206.1L1229.2 207.6L1227.7 209.4L1226.3 207.6L1224.4 206.1L1226.3 204.7ZM1228 201.2L1229.4 203.1L1231.3 204.5L1229.4 206L1228 207.8L1226.5 206L1224.7 204.5L1226.5 203.1ZM1228.2 204.4L1229.7 206.2L1231.5 207.7L1229.7 209.1L1228.2 211L1226.8 209.1L1224.9 207.7L1226.8 206.2ZM1228.5 201.2L1229.9 203L1231.8 204.5L1229.9 205.9L1228.5 207.8L1227 205.9L1225.2 204.5L1227 203ZM1228.7 203.8L1230.2 205.6L1232 207.1L1230.2 208.5L1228.7 210.4L1227.3 208.5L1225.4 207.1L1227.3 205.6ZM1229 201.4L1230.4 203.3L1232.3 204.7L1230.4 206.2L1229 208L1227.5 206.2L1225.7 204.7L1227.5 203.3ZM1229.2 201.7L1230.7 203.6L1232.5 205L1230.7 206.5L1229.2 208.3L1227.8 206.5L1225.9 205L1227.8 203.6ZM1229.5 204.5L1230.9 206.4L1232.8 207.8L1230.9 209.3L1229.5 211.1L1228 209.3L1226.2 207.8L1228 206.4ZM1229.7 202.7L1231.2 204.6L1233 206L1231.2 207.5L1229.7 209.3L1228.3 207.5L1226.4 206L1228.3 204.6ZM1230 206L1231.4 207.9L1233.3 209.3L1231.4 210.8L1230 212.6L1228.5 210.8L1226.7 209.3L1228.5 207.9ZM1230.2 204.3L1231.7 206.2L1233.5 207.6L1231.7 209.1L1230.2 210.9L1228.8 209.1L1226.9 207.6L1228.8 206.2ZM1230.5 203.3L1231.9 205.1L1233.8 206.6L1231.9 208L1230.5 209.9L1229 208L1227.2 206.6L1229 205.1ZM1230.7 203.8L1232.2 205.6L1234 207.1L1232.2 208.5L1230.7 210.4L1229.3 208.5L1227.4 207.1L1229.3 205.6ZM1231 205L1232.4 206.8L1234.3 208.3L1232.4 209.7L1231 211.6L1229.5 209.7L1227.7 208.3L1229.5 206.8ZM1231.2 206.4L1232.7 208.3L1234.5 209.7L1232.7 211.2L1231.2 213L1229.8 211.2L1227.9 209.7L1229.8 208.3ZM1231.5 208L1232.9 209.9L1234.8 211.3L1232.9 212.8L1231.5 214.6L1230 212.8L1228.2 211.3L1230 209.9ZM1231.7 204.7L1233.2 206.6L1235 208L1233.2 209.5L1231.7 211.3L1230.3 209.5L1228.4 208L1230.3 206.6ZM1231.9 206.2L1233.4 208L1235.2 209.5L1233.4 210.9L1231.9 212.8L1230.5 210.9L1228.6 209.5L1230.5 208ZM1232.2 205.8L1233.6 207.6L1235.5 209.1L1233.6 210.5L1232.2 212.4L1230.7 210.5L1228.9 209.1L1230.7 207.6ZM1232.4 209.5L1233.9 211.4L1235.7 212.8L1233.9 214.3L1232.4 216.1L1231 214.3L1229.1 212.8L1231 211.4ZM1232.7 206.2L1234.1 208L1236 209.5L1234.1 210.9L1232.7 212.8L1231.2 210.9L1229.4 209.5L1231.2 208ZM1232.9 206.1L1234.3 208L1236.2 209.4L1234.3 210.9L1232.9 212.7L1231.4 210.9L1229.6 209.4L1231.4 208ZM1233.1 206.5L1234.6 208.4L1236.4 209.8L1234.6 211.3L1233.1 213.1L1231.7 211.3L1229.8 209.8L1231.7 208.4ZM1233.4 208.4L1234.8 210.2L1236.7 211.7L1234.8 213.1L1233.4 215L1231.9 213.1L1230.1 211.7L1231.9 210.2ZM1233.6 211L1235.1 212.9L1236.9 214.3L1235.1 215.8L1233.6 217.6L1232.2 215.8L1230.3 214.3L1232.2 212.9ZM1233.8 211.3L1235.3 213.2L1237.1 214.6L1235.3 216.1L1233.8 217.9L1232.4 216.1L1230.5 214.6L1232.4 213.2ZM1234.1 211L1235.5 212.8L1237.4 214.3L1235.5 215.7L1234.1 217.6L1232.6 215.7L1230.8 214.3L1232.6 212.8ZM1234.3 212.5L1235.7 214.4L1237.6 215.8L1235.7 217.3L1234.3 219.1L1232.8 217.3L1231 215.8L1232.8 214.4ZM1234.5 212.5L1236 214.4L1237.8 215.8L1236 217.3L1234.5 219.1L1233.1 217.3L1231.2 215.8L1233.1 214.4ZM1234.8 209.6L1236.2 211.5L1238.1 212.9L1236.2 214.4L1234.8 216.2L1233.3 214.4L1231.5 212.9L1233.3 211.5ZM1235 208.8L1236.4 210.6L1238.3 212.1L1236.4 213.5L1235 215.4L1233.5 213.5L1231.7 212.1L1233.5 210.6ZM1235.2 211.9L1236.7 213.8L1238.5 215.2L1236.7 216.7L1235.2 218.5L1233.8 216.7L1231.9 215.2L1233.8 213.8ZM1235.4 210.9L1236.9 212.7L1238.7 214.2L1236.9 215.6L1235.4 217.5L1234 215.6L1232.1 214.2L1234 212.7ZM1235.7 207.5L1237.1 209.3L1239 210.8L1237.1 212.2L1235.7 214.1L1234.2 212.2L1232.4 210.8L1234.2 209.3ZM1235.9 210.1L1237.3 212L1239.2 213.4L1237.3 214.9L1235.9 216.7L1234.4 214.9L1232.6 213.4L1234.4 212ZM1236.1 208.6L1237.6 210.5L1239.4 211.9L1237.6 213.4L1236.1 215.2L1234.7 213.4L1232.8 211.9L1234.7 210.5ZM1236.3 208.4L1237.8 210.3L1239.6 211.7L1237.8 213.2L1236.3 215L1234.9 213.2L1233 211.7L1234.9 210.3ZM1236.6 208L1238 209.9L1239.9 211.3L1238 212.8L1236.6 214.6L1235.1 212.8L1233.3 211.3L1235.1 209.9ZM1236.8 207.1L1238.2 208.9L1240.1 210.4L1238.2 211.8L1236.8 213.7L1235.3 211.8L1233.5 210.4L1235.3 208.9ZM1237 206.1L1238.4 208L1240.3 209.4L1238.4 210.9L1237 212.7L1235.5 210.9L1233.7 209.4L1235.5 208ZM1237.2 207.2L1238.7 209L1240.5 210.5L1238.7 211.9L1237.2 213.8L1235.8 211.9L1233.9 210.5L1235.8 209ZM1237.4 207.3L1238.9 209.2L1240.7 210.6L1238.9 212.1L1237.4 213.9L1236 212.1L1234.1 210.6L1236 209.2ZM1237.6 209.9L1239.1 211.7L1240.9 213.2L1239.1 214.6L1237.6 216.5L1236.2 214.6L1234.3 213.2L1236.2 211.7ZM1237.9 205.9L1239.3 207.8L1241.2 209.2L1239.3 210.7L1237.9 212.5L1236.4 210.7L1234.6 209.2L1236.4 207.8ZM1238.1 209.5L1239.5 211.4L1241.4 212.8L1239.5 214.3L1238.1 216.1L1236.6 214.3L1234.8 212.8L1236.6 211.4ZM1238.3 206.4L1239.7 208.2L1241.6 209.7L1239.7 211.1L1238.3 213L1236.8 211.1L1235 209.7L1236.8 208.2ZM1238.5 207.3L1240 209.2L1241.8 210.6L1240 212.1L1238.5 213.9L1237.1 212.1L1235.2 210.6L1237.1 209.2ZM1238.7 209.7L1240.2 211.6L1242 213L1240.2 214.5L1238.7 216.3L1237.3 214.5L1235.4 213L1237.3 211.6ZM1238.9 210.1L1240.4 211.9L1242.2 213.4L1240.4 214.8L1238.9 216.7L1237.5 214.8L1235.6 213.4L1237.5 211.9ZM1239.1 208.6L1240.6 210.5L1242.4 211.9L1240.6 213.4L1239.1 215.2L1237.7 213.4L1235.8 211.9L1237.7 210.5ZM1239.4 207.2L1240.8 209L1242.7 210.5L1240.8 211.9L1239.4 213.8L1237.9 211.9L1236.1 210.5L1237.9 209ZM1239.6 209.4L1241 211.3L1242.9 212.7L1241 214.2L1239.6 216L1238.1 214.2L1236.3 212.7L1238.1 211.3ZM1239.8 209.3L1241.2 211.1L1243.1 212.6L1241.2 214L1239.8 215.9L1238.3 214L1236.5 212.6L1238.3 211.1ZM1240 212L1241.4 213.9L1243.3 215.3L1241.4 216.8L1240 218.6L1238.5 216.8L1236.7 215.3L1238.5 213.9ZM1240.2 209.1L1241.6 210.9L1243.5 212.4L1241.6 213.8L1240.2 215.7L1238.7 213.8L1236.9 212.4L1238.7 210.9ZM1240.4 210.4L1241.8 212.2L1243.7 213.7L1241.8 215.1L1240.4 217L1238.9 215.1L1237.1 213.7L1238.9 212.2ZM1240.6 213.6L1242.1 215.5L1243.9 216.9L1242.1 218.4L1240.6 220.2L1239.2 218.4L1237.3 216.9L1239.2 215.5ZM1240.8 210.6L1242.3 212.4L1244.1 213.9L1242.3 215.3L1240.8 217.2L1239.4 215.3L1237.5 213.9L1239.4 212.4ZM1241 213.1L1242.5 215L1244.3 216.4L1242.5 217.9L1241 219.7L1239.6 217.9L1237.7 216.4L1239.6 215ZM1241.2 215.8L1242.7 217.6L1244.5 219.1L1242.7 220.5L1241.2 222.4L1239.8 220.5L1237.9 219.1L1239.8 217.6ZM1241.4 216.4L1242.9 218.2L1244.7 219.7L1242.9 221.1L1241.4 223L1240 221.1L1238.1 219.7L1240 218.2ZM1241.6 213.9L1243.1 215.8L1244.9 217.2L1243.1 218.7L1241.6 220.5L1240.2 218.7L1238.3 217.2L1240.2 215.8ZM1241.8 214.7L1243.3 216.6L1245.1 218L1243.3 219.5L1241.8 221.3L1240.4 219.5L1238.5 218L1240.4 216.6ZM1242 215.7L1243.5 217.5L1245.3 219L1243.5 220.4L1242 222.3L1240.6 220.4L1238.7 219L1240.6 217.5ZM1242.2 220.4L1243.7 222.2L1245.5 223.7L1243.7 225.1L1242.2 227L1240.8 225.1L1238.9 223.7L1240.8 222.2ZM1242.4 218.1L1243.9 220L1245.7 221.4L1243.9 222.9L1242.4 224.7L1241 222.9L1239.1 221.4L1241 220ZM1242.6 220.7L1244.1 222.5L1245.9 224L1244.1 225.4L1242.6 227.3L1241.2 225.4L1239.3 224L1241.2 222.5ZM1242.8 221.7L1244.3 223.5L1246.1 225L1244.3 226.4L1242.8 228.3L1241.4 226.4L1239.5 225L1241.4 223.5ZM1243 219.5L1244.5 221.4L1246.3 222.8L1244.5 224.3L1243 226.1L1241.6 224.3L1239.7 222.8L1241.6 221.4ZM1243.2 219.5L1244.7 221.4L1246.5 222.8L1244.7 224.3L1243.2 226.1L1241.8 224.3L1239.9 222.8L1241.8 221.4ZM1243.4 222.9L1244.9 224.8L1246.7 226.2L1244.9 227.7L1243.4 229.5L1242 227.7L1240.1 226.2L1242 224.8ZM1243.6 221.7L1245.1 223.6L1246.9 225L1245.1 226.5L1243.6 228.3L1242.2 226.5L1240.3 225L1242.2 223.6ZM1243.8 220.5L1245.3 222.3L1247.1 223.8L1245.3 225.2L1243.8 227.1L1242.4 225.2L1240.5 223.8L1242.4 222.3ZM1244 222.8L1245.4 224.7L1247.3 226.1L1245.4 227.6L1244 229.4L1242.5 227.6L1240.7 226.1L1242.5 224.7ZM1244.2 221.3L1245.6 223.2L1247.5 224.6L1245.6 226.1L1244.2 227.9L1242.7 226.1L1240.9 224.6L1242.7 223.2ZM1244.4 221.5L1245.8 223.3L1247.7 224.8L1245.8 226.2L1244.4 228.1L1242.9 226.2L1241.1 224.8L1242.9 223.3ZM1244.6 220.6L1246 222.4L1247.9 223.9L1246 225.3L1244.6 227.2L1243.1 225.3L1241.3 223.9L1243.1 222.4ZM1244.8 224.3L1246.2 226.1L1248.1 227.6L1246.2 229L1244.8 230.9L1243.3 229L1241.5 227.6L1243.3 226.1ZM1245 225.3L1246.4 227.2L1248.3 228.6L1246.4 230.1L1245 231.9L1243.5 230.1L1241.7 228.6L1243.5 227.2ZM1245.1 224.4L1246.6 226.2L1248.4 227.7L1246.6 229.1L1245.1 231L1243.7 229.1L1241.8 227.7L1243.7 226.2ZM1245.3 226.1L1246.8 227.9L1248.6 229.4L1246.8 230.8L1245.3 232.7L1243.9 230.8L1242 229.4L1243.9 227.9ZM1245.5 222.2L1247 224.1L1248.8 225.5L1247 227L1245.5 228.8L1244.1 227L1242.2 225.5L1244.1 224.1ZM1245.7 223.3L1247.2 225.2L1249 226.6L1247.2 228.1L1245.7 229.9L1244.3 228.1L1242.4 226.6L1244.3 225.2ZM1245.9 224.5L1247.3 226.3L1249.2 227.8L1247.3 229.2L1245.9 231.1L1244.4 229.2L1242.6 227.8L1244.4 226.3ZM1246.1 226.7L1247.5 228.6L1249.4 230L1247.5 231.5L1246.1 233.3L1244.6 231.5L1242.8 230L1244.6 228.6ZM1246.3 226.8L1247.7 228.6L1249.6 230.1L1247.7 231.5L1246.3 233.4L1244.8 231.5L1243 230.1L1244.8 228.6ZM1246.5 224.3L1247.9 226.1L1249.8 227.6L1247.9 229L1246.5 230.9L1245 229L1243.2 227.6L1245 226.1ZM1246.6 223.7L1248.1 225.6L1249.9 227L1248.1 228.5L1246.6 230.3L1245.2 228.5L1243.3 227L1245.2 225.6ZM1246.8 224.6L1248.3 226.5L1250.1 227.9L1248.3 229.4L1246.8 231.2L1245.4 229.4L1243.5 227.9L1245.4 226.5ZM1247 225L1248.5 226.8L1250.3 228.3L1248.5 229.7L1247 231.6L1245.6 229.7L1243.7 228.3L1245.6 226.8ZM1247.2 227L1248.6 228.8L1250.5 230.3L1248.6 231.7L1247.2 233.6L1245.7 231.7L1243.9 230.3L1245.7 228.8ZM1247.4 223.7L1248.8 225.5L1250.7 227L1248.8 228.4L1247.4 230.3L1245.9 228.4L1244.1 227L1245.9 225.5ZM1247.6 226.5L1249 228.4L1250.9 229.8L1249 231.3L1247.6 233.1L1246.1 231.3L1244.3 229.8L1246.1 228.4ZM1247.7 226.3L1249.2 228.2L1251 229.6L1249.2 231.1L1247.7 232.9L1246.3 231.1L1244.4 229.6L1246.3 228.2ZM1247.9 226.8L1249.4 228.6L1251.2 230.1L1249.4 231.5L1247.9 233.4L1246.5 231.5L1244.6 230.1L1246.5 228.6ZM1248.1 226.6L1249.6 228.4L1251.4 229.9L1249.6 231.3L1248.1 233.2L1246.7 231.3L1244.8 229.9L1246.7 228.4ZM1248.3 225.9L1249.7 227.8L1251.6 229.2L1249.7 230.7L1248.3 232.5L1246.8 230.7L1245 229.2L1246.8 227.8ZM1248.5 224.7L1249.9 226.6L1251.8 228L1249.9 229.5L1248.5 231.3L1247 229.5L1245.2 228L1247 226.6ZM1248.6 224.7L1250.1 226.6L1251.9 228L1250.1 229.5L1248.6 231.3L1247.2 229.5L1245.3 228L1247.2 226.6ZM1248.8 225L1250.3 226.8L1252.1 228.3L1250.3 229.7L1248.8 231.6L1247.4 229.7L1245.5 228.3L1247.4 226.8ZM1249 227L1250.4 228.9L1252.3 230.3L1250.4 231.8L1249 233.6L1247.5 231.8L1245.7 230.3L1247.5 228.9ZM1249.2 224L1250.6 225.9L1252.5 227.3L1250.6 228.8L1249.2 230.6L1247.7 228.8L1245.9 227.3L1247.7 225.9ZM1249.3 224.7L1250.8 226.5L1252.6 228L1250.8 229.4L1249.3 231.3L1247.9 229.4L1246 228L1247.9 226.5ZM1249.5 227.3L1251 229.2L1252.8 230.6L1251 232.1L1249.5 233.9L1248.1 232.1L1246.2 230.6L1248.1 229.2ZM1249.7 225.2L1251.1 227L1253 228.5L1251.1 229.9L1249.7 231.8L1248.2 229.9L1246.4 228.5L1248.2 227ZM1249.9 224.5L1251.3 226.4L1253.2 227.8L1251.3 229.3L1249.9 231.1L1248.4 229.3L1246.6 227.8L1248.4 226.4ZM1250 224.5L1251.5 226.4L1253.3 227.8L1251.5 229.3L1250 231.1L1248.6 229.3L1246.7 227.8L1248.6 226.4ZM1250.2 227L1251.7 228.8L1253.5 230.3L1251.7 231.7L1250.2 233.6L1248.8 231.7L1246.9 230.3L1248.8 228.8ZM1250.4 226.1L1251.8 227.9L1253.7 229.4L1251.8 230.8L1250.4 232.7L1248.9 230.8L1247.1 229.4L1248.9 227.9ZM1250.6 229.2L1252 231L1253.9 232.5L1252 233.9L1250.6 235.8L1249.1 233.9L1247.3 232.5L1249.1 231ZM1250.7 228.9L1252.2 230.7L1254 232.2L1252.2 233.6L1250.7 235.5L1249.3 233.6L1247.4 232.2L1249.3 230.7ZM1250.9 229.5L1252.4 231.4L1254.2 232.8L1252.4 234.3L1250.9 236.1L1249.5 234.3L1247.6 232.8L1249.5 231.4ZM1251.1 226.5L1252.5 228.3L1254.4 229.8L1252.5 231.2L1251.1 233.1L1249.6 231.2L1247.8 229.8L1249.6 228.3ZM1251.3 225.9L1252.7 227.7L1254.6 229.2L1252.7 230.6L1251.3 232.5L1249.8 230.6L1248 229.2L1249.8 227.7ZM1251.4 226.2L1252.9 228L1254.7 229.5L1252.9 230.9L1251.4 232.8L1250 230.9L1248.1 229.5L1250 228ZM1251.6 228.2L1253 230L1254.9 231.5L1253 232.9L1251.6 234.8L1250.1 232.9L1248.3 231.5L1250.1 230ZM1251.8 229.3L1253.2 231.2L1255.1 232.6L1253.2 234.1L1251.8 235.9L1250.3 234.1L1248.5 232.6L1250.3 231.2ZM1251.9 228.4L1253.4 230.2L1255.2 231.7L1253.4 233.1L1251.9 235L1250.5 233.1L1248.6 231.7L1250.5 230.2ZM1252.1 227.6L1253.5 229.5L1255.4 230.9L1253.5 232.4L1252.1 234.2L1250.6 232.4L1248.8 230.9L1250.6 229.5ZM1252.3 228.7L1253.7 230.5L1255.6 232L1253.7 233.4L1252.3 235.3L1250.8 233.4L1249 232L1250.8 230.5ZM1252.4 229.8L1253.9 231.6L1255.7 233.1L1253.9 234.5L1252.4 236.4L1251 234.5L1249.1 233.1L1251 231.6ZM1252.6 230.2L1254 232.1L1255.9 233.5L1254 235L1252.6 236.8L1251.1 235L1249.3 233.5L1251.1 232.1ZM1252.8 230.8L1254.2 232.6L1256.1 234.1L1254.2 235.5L1252.8 237.4L1251.3 235.5L1249.5 234.1L1251.3 232.6ZM1252.9 231.4L1254.4 233.3L1256.2 234.7L1254.4 236.2L1252.9 238L1251.5 236.2L1249.6 234.7L1251.5 233.3ZM1253.1 230.8L1254.5 232.7L1256.4 234.1L1254.5 235.6L1253.1 237.4L1251.6 235.6L1249.8 234.1L1251.6 232.7ZM1253.3 228.6L1254.7 230.4L1256.6 231.9L1254.7 233.3L1253.3 235.2L1251.8 233.3L1250 231.9L1251.8 230.4ZM1253.4 232L1254.9 233.9L1256.7 235.3L1254.9 236.8L1253.4 238.6L1252 236.8L1250.1 235.3L1252 233.9ZM1253.6 229.8L1255 231.6L1256.9 233.1L1255 234.5L1253.6 236.4L1252.1 234.5L1250.3 233.1L1252.1 231.6ZM1253.7 231.2L1255.2 233L1257 234.5L1255.2 235.9L1253.7 237.8L1252.3 235.9L1250.4 234.5L1252.3 233ZM1253.9 230.5L1255.4 232.4L1257.2 233.8L1255.4 235.3L1253.9 237.1L1252.5 235.3L1250.6 233.8L1252.5 232.4ZM1254.1 232.6L1255.5 234.4L1257.4 235.9L1255.5 237.3L1254.1 239.2L1252.6 237.3L1250.8 235.9L1252.6 234.4ZM1254.2 230.9L1255.7 232.7L1257.5 234.2L1255.7 235.6L1254.2 237.5L1252.8 235.6L1250.9 234.2L1252.8 232.7ZM1254.4 231.8L1255.8 233.6L1257.7 235.1L1255.8 236.5L1254.4 238.4L1252.9 236.5L1251.1 235.1L1252.9 233.6ZM1254.6 232.5L1256 234.3L1257.9 235.8L1256 237.2L1254.6 239.1L1253.1 237.2L1251.3 235.8L1253.1 234.3ZM1254.7 232.8L1256.2 234.6L1258 236.1L1256.2 237.5L1254.7 239.4L1253.3 237.5L1251.4 236.1L1253.3 234.6ZM1254.9 236.8L1256.3 238.6L1258.2 240.1L1256.3 241.5L1254.9 243.4L1253.4 241.5L1251.6 240.1L1253.4 238.6ZM1255 236.1L1256.5 237.9L1258.3 239.4L1256.5 240.8L1255 242.7L1253.6 240.8L1251.7 239.4L1253.6 237.9ZM1255.2 235.6L1256.6 237.5L1258.5 238.9L1256.6 240.4L1255.2 242.2L1253.7 240.4L1251.9 238.9L1253.7 237.5ZM1255.4 236.7L1256.8 238.5L1258.7 240L1256.8 241.4L1255.4 243.3L1253.9 241.4L1252.1 240L1253.9 238.5ZM1255.5 240L1257 241.9L1258.8 243.3L1257 244.8L1255.5 246.6L1254.1 244.8L1252.2 243.3L1254.1 241.9ZM1255.7 238.5L1257.1 240.4L1259 241.8L1257.1 243.3L1255.7 245.1L1254.2 243.3L1252.4 241.8L1254.2 240.4ZM1255.8 238L1257.3 239.8L1259.1 241.3L1257.3 242.7L1255.8 244.6L1254.4 242.7L1252.5 241.3L1254.4 239.8ZM1256 241.3L1257.4 243.1L1259.3 244.6L1257.4 246L1256 247.9L1254.5 246L1252.7 244.6L1254.5 243.1ZM1256.1 241.2L1257.6 243.1L1259.4 244.5L1257.6 246L1256.1 247.8L1254.7 246L1252.8 244.5L1254.7 243.1ZM1256.3 243.4L1257.7 245.3L1259.6 246.7L1257.7 248.2L1256.3 250L1254.8 248.2L1253 246.7L1254.8 245.3ZM1256.4 239.9L1257.9 241.7L1259.7 243.2L1257.9 244.6L1256.4 246.5L1255 244.6L1253.1 243.2L1255 241.7ZM1256.6 241.4L1258.1 243.3L1259.9 244.7L1258.1 246.2L1256.6 248L1255.2 246.2L1253.3 244.7L1255.2 243.3ZM1256.8 242.8L1258.2 244.7L1260.1 246.1L1258.2 247.6L1256.8 249.4L1255.3 247.6L1253.5 246.1L1255.3 244.7ZM1256.9 242.8L1258.4 244.7L1260.2 246.1L1258.4 247.6L1256.9 249.4L1255.5 247.6L1253.6 246.1L1255.5 244.7ZM1257.1 243L1258.5 244.9L1260.4 246.3L1258.5 247.8L1257.1 249.6L1255.6 247.8L1253.8 246.3L1255.6 244.9ZM1257.2 239L1258.7 240.8L1260.5 242.3L1258.7 243.7L1257.2 245.6L1255.8 243.7L1253.9 242.3L1255.8 240.8ZM1257.4 240L1258.8 241.8L1260.7 243.3L1258.8 244.7L1257.4 246.6L1255.9 244.7L1254.1 243.3L1255.9 241.8ZM1257.5 239.1L1259 240.9L1260.8 242.4L1259 243.8L1257.5 245.7L1256.1 243.8L1254.2 242.4L1256.1 240.9ZM1257.7 239.3L1259.1 241.1L1261 242.6L1259.1 244L1257.7 245.9L1256.2 244L1254.4 242.6L1256.2 241.1ZM1257.8 242.7L1259.3 244.5L1261.1 246L1259.3 247.4L1257.8 249.3L1256.4 247.4L1254.5 246L1256.4 244.5ZM1258 240.8L1259.4 242.7L1261.3 244.1L1259.4 245.6L1258 247.4L1256.5 245.6L1254.7 244.1L1256.5 242.7ZM1258.1 242.3L1259.6 244.1L1261.4 245.6L1259.6 247L1258.1 248.9L1256.7 247L1254.8 245.6L1256.7 244.1ZM1258.3 239.6L1259.7 241.5L1261.6 242.9L1259.7 244.4L1258.3 246.2L1256.8 244.4L1255 242.9L1256.8 241.5ZM1258.4 241.7L1259.9 243.6L1261.7 245L1259.9 246.5L1258.4 248.3L1257 246.5L1255.1 245L1257 243.6ZM1258.6 239.7L1260 241.6L1261.9 243L1260 244.5L1258.6 246.3L1257.1 244.5L1255.3 243L1257.1 241.6ZM1258.7 238.8L1260.2 240.6L1262 242.1L1260.2 243.5L1258.7 245.4L1257.3 243.5L1255.4 242.1L1257.3 240.6ZM1258.9 241L1260.3 242.8L1262.2 244.3L1260.3 245.7L1258.9 247.6L1257.4 245.7L1255.6 244.3L1257.4 242.8ZM1259 241.6L1260.5 243.5L1262.3 244.9L1260.5 246.4L1259 248.2L1257.6 246.4L1255.7 244.9L1257.6 243.5ZM1259.2 237.7L1260.6 239.6L1262.5 241L1260.6 242.5L1259.2 244.3L1257.7 242.5L1255.9 241L1257.7 239.6ZM1259.3 239.8L1260.8 241.6L1262.6 243.1L1260.8 244.5L1259.3 246.4L1257.9 244.5L1256 243.1L1257.9 241.6ZM1259.5 239.8L1260.9 241.6L1262.8 243.1L1260.9 244.5L1259.5 246.4L1258 244.5L1256.2 243.1L1258 241.6ZM1259.6 237.9L1261.1 239.7L1262.9 241.2L1261.1 242.6L1259.6 244.5L1258.2 242.6L1256.3 241.2L1258.2 239.7ZM1259.8 238.4L1261.2 240.3L1263.1 241.7L1261.2 243.2L1259.8 245L1258.3 243.2L1256.5 241.7L1258.3 240.3ZM1259.9 237.3L1261.4 239.1L1263.2 240.6L1261.4 242L1259.9 243.9L1258.5 242L1256.6 240.6L1258.5 239.1ZM1260.1 237.4L1261.5 239.3L1263.4 240.7L1261.5 242.2L1260.1 244L1258.6 242.2L1256.8 240.7L1258.6 239.3ZM1260.2 237.6L1261.7 239.4L1263.5 240.9L1261.7 242.3L1260.2 244.2L1258.8 242.3L1256.9 240.9L1258.8 239.4ZM1260.3 239L1261.8 240.8L1263.6 242.3L1261.8 243.7L1260.3 245.6L1258.9 243.7L1257 242.3L1258.9 240.8ZM1260.5 239.1L1261.9 240.9L1263.8 242.4L1261.9 243.8L1260.5 245.7L1259 243.8L1257.2 242.4L1259 240.9ZM1260.6 236.9L1262.1 238.8L1263.9 240.2L1262.1 241.7L1260.6 243.5L1259.2 241.7L1257.3 240.2L1259.2 238.8ZM1260.8 235.9L1262.2 237.8L1264.1 239.2L1262.2 240.7L1260.8 242.5L1259.3 240.7L1257.5 239.2L1259.3 237.8ZM1260.9 237.2L1262.4 239.1L1264.2 240.5L1262.4 242L1260.9 243.8L1259.5 242L1257.6 240.5L1259.5 239.1ZM1261.1 238.7L1262.5 240.5L1264.4 242L1262.5 243.4L1261.1 245.3L1259.6 243.4L1257.8 242L1259.6 240.5ZM1261.2 236.3L1262.7 238.1L1264.5 239.6L1262.7 241L1261.2 242.9L1259.8 241L1257.9 239.6L1259.8 238.1ZM1261.3 236.7L1262.8 238.6L1264.6 240L1262.8 241.5L1261.3 243.3L1259.9 241.5L1258 240L1259.9 238.6ZM1261.5 236.1L1262.9 238L1264.8 239.4L1262.9 240.9L1261.5 242.7L1260 240.9L1258.2 239.4L1260 238ZM1261.6 238.6L1263.1 240.5L1264.9 241.9L1263.1 243.4L1261.6 245.2L1260.2 243.4L1258.3 241.9L1260.2 240.5ZM1261.8 237.4L1263.2 239.2L1265.1 240.7L1263.2 242.1L1261.8 244L1260.3 242.1L1258.5 240.7L1260.3 239.2ZM1261.9 235.1L1263.4 236.9L1265.2 238.4L1263.4 239.8L1261.9 241.7L1260.5 239.8L1258.6 238.4L1260.5 236.9ZM1262.9 235.3L1264.3 237.1L1266.2 238.6L1264.3 240L1262.9 241.9L1261.4 240L1259.6 238.6L1261.4 237.1ZM1263.9 234.9L1265.3 236.8L1267.2 238.2L1265.3 239.7L1263.9 241.5L1262.4 239.7L1260.6 238.2L1262.4 236.8ZM1264.8 234.5L1266.2 236.3L1268.1 237.8L1266.2 239.2L1264.8 241.1L1263.3 239.2L1261.5 237.8L1263.3 236.3ZM1265.7 234.3L1267.2 236.1L1269 237.6L1267.2 239L1265.7 240.9L1264.3 239L1262.4 237.6L1264.3 236.1ZM1266.6 232.8L1268.1 234.6L1269.9 236.1L1268.1 237.5L1266.6 239.4L1265.2 237.5L1263.3 236.1L1265.2 234.6ZM1267.7 232.5L1269.1 234.3L1271 235.8L1269.1 237.2L1267.7 239.1L1266.2 237.2L1264.4 235.8L1266.2 234.3ZM1268.7 233.5L1270.1 235.3L1272 236.8L1270.1 238.2L1268.7 240.1L1267.2 238.2L1265.4 236.8L1267.2 235.3ZM1269.7 234.7L1271.1 236.5L1273 238L1271.1 239.4L1269.7 241.3L1268.2 239.4L1266.4 238L1268.2 236.5ZM1270.6 236.2L1272.1 238L1273.9 239.5L1272.1 240.9L1270.6 242.8L1269.2 240.9L1267.3 239.5L1269.2 238ZM1271.6 237.9L1273 239.8L1274.9 241.2L1273 242.7L1271.6 244.5L1270.1 242.7L1268.3 241.2L1270.1 239.8ZM1272.5 241.1L1274 242.9L1275.8 244.4L1274 245.8L1272.5 247.7L1271.1 245.8L1269.2 244.4L1271.1 242.9ZM1273.5 241.6L1274.9 243.5L1276.8 244.9L1274.9 246.4L1273.5 248.2L1272 246.4L1270.2 244.9L1272 243.5ZM1274.4 244L1275.8 245.8L1277.7 247.3L1275.8 248.7L1274.4 250.6L1272.9 248.7L1271.1 247.3L1272.9 245.8ZM1275.4 245.1L1276.8 246.9L1278.7 248.4L1276.8 249.8L1275.4 251.7L1273.9 249.8L1272.1 248.4L1273.9 246.9ZM1276.4 246.2L1277.8 248L1279.7 249.5L1277.8 250.9L1276.4 252.8L1274.9 250.9L1273.1 249.5L1274.9 248ZM1277.3 248.1L1278.8 249.9L1280.6 251.4L1278.8 252.8L1277.3 254.7L1275.9 252.8L1274 251.4L1275.9 249.9ZM1278.3 249.3L1279.7 251.1L1281.6 252.6L1279.7 254L1278.3 255.9L1276.8 254L1275 252.6L1276.8 251.1ZM1279.2 248.9L1280.7 250.8L1282.5 252.2L1280.7 253.7L1279.2 255.5L1277.8 253.7L1275.9 252.2L1277.8 250.8ZM1280.1 248.4L1281.6 250.2L1283.4 251.7L1281.6 253.1L1280.1 255L1278.7 253.1L1276.8 251.7L1278.7 250.2ZM1281.1 248L1282.5 249.8L1284.4 251.3L1282.5 252.7L1281.1 254.6L1279.6 252.7L1277.8 251.3L1279.6 249.8ZM1282 245.4L1283.5 247.2L1285.3 248.7L1283.5 250.1L1282 252L1280.6 250.1L1278.7 248.7L1280.6 247.2ZM1283 243.4L1284.5 245.3L1286.3 246.7L1284.5 248.2L1283 250L1281.6 248.2L1279.7 246.7L1281.6 245.3ZM1284 244.3L1285.4 246.2L1287.3 247.6L1285.4 249.1L1284 250.9L1282.5 249.1L1280.7 247.6L1282.5 246.2ZM1284.9 244.1L1286.4 246L1288.2 247.4L1286.4 248.9L1284.9 250.7L1283.5 248.9L1281.6 247.4L1283.5 246ZM1285.8 245.7L1287.3 247.5L1289.1 249L1287.3 250.4L1285.8 252.3L1284.4 250.4L1282.5 249L1284.4 247.5ZM1286.8 245.6L1288.2 247.5L1290.1 248.9L1288.2 250.4L1286.8 252.2L1285.3 250.4L1283.5 248.9L1285.3 247.5ZM1287.7 247.4L1289.2 249.2L1291 250.7L1289.2 252.1L1287.7 254L1286.3 252.1L1284.4 250.7L1286.3 249.2ZM1288.7 247.3L1290.2 249.1L1292 250.6L1290.2 252L1288.7 253.9L1287.3 252L1285.4 250.6L1287.3 249.1ZM1289.7 247.2L1291.1 249L1293 250.5L1291.1 251.9L1289.7 253.8L1288.2 251.9L1286.4 250.5L1288.2 249ZM1290.6 247.3L1292.1 249.2L1293.9 250.6L1292.1 252.1L1290.6 253.9L1289.2 252.1L1287.3 250.6L1289.2 249.2ZM1291.5 248.9L1293 250.7L1294.8 252.2L1293 253.6L1291.5 255.5L1290.1 253.6L1288.2 252.2L1290.1 250.7ZM1292.4 249.5L1293.9 251.3L1295.7 252.8L1293.9 254.2L1292.4 256.1L1291 254.2L1289.1 252.8L1291 251.3ZM1293.4 250.5L1294.9 252.4L1296.7 253.8L1294.9 255.3L1293.4 257.1L1292 255.3L1290.1 253.8L1292 252.4ZM1294.4 249.4L1295.8 251.2L1297.7 252.7L1295.8 254.1L1294.4 256L1292.9 254.1L1291.1 252.7L1292.9 251.2ZM1295.3 250.6L1296.7 252.4L1298.6 253.9L1296.7 255.3L1295.3 257.2L1293.8 255.3L1292 253.9L1293.8 252.4ZM1296.2 249.6L1297.7 251.5L1299.5 252.9L1297.7 254.4L1296.2 256.2L1294.8 254.4L1292.9 252.9L1294.8 251.5ZM1297.1 249.4L1298.6 251.3L1300.4 252.7L1298.6 254.2L1297.1 256L1295.7 254.2L1293.8 252.7L1295.7 251.3ZM1298.1 248.2L1299.6 250.1L1301.4 251.5L1299.6 253L1298.1 254.8L1296.7 253L1294.8 251.5L1296.7 250.1ZM1299.1 248L1300.5 249.9L1302.4 251.3L1300.5 252.8L1299.1 254.6L1297.6 252.8L1295.8 251.3L1297.6 249.9ZM1300 248.4L1301.4 250.2L1303.3 251.7L1301.4 253.1L1300 255L1298.5 253.1L1296.7 251.7L1298.5 250.2ZM1300.9 250.3L1302.4 252.2L1304.2 253.6L1302.4 255.1L1300.9 256.9L1299.5 255.1L1297.6 253.6L1299.5 252.2ZM1301.8 249.8L1303.3 251.7L1305.1 253.1L1303.3 254.6L1301.8 256.4L1300.4 254.6L1298.5 253.1L1300.4 251.7ZM1302.8 251.8L1304.2 253.7L1306.1 255.1L1304.2 256.6L1302.8 258.4L1301.3 256.6L1299.5 255.1L1301.3 253.7ZM1303.7 252.2L1305.2 254L1307 255.5L1305.2 256.9L1303.7 258.8L1302.3 256.9L1300.4 255.5L1302.3 254ZM1304.6 251.8L1306.1 253.6L1307.9 255.1L1306.1 256.5L1304.6 258.4L1303.2 256.5L1301.3 255.1L1303.2 253.6ZM1305.6 249.6L1307 251.4L1308.9 252.9L1307 254.3L1305.6 256.2L1304.1 254.3L1302.3 252.9L1304.1 251.4ZM1306.5 249.2L1308 251.1L1309.8 252.5L1308 254L1306.5 255.8L1305.1 254L1303.2 252.5L1305.1 251.1ZM1307.5 251.6L1308.9 253.5L1310.8 254.9L1308.9 256.4L1307.5 258.2L1306 256.4L1304.2 254.9L1306 253.5ZM1308.4 252.5L1309.9 254.3L1311.7 255.8L1309.9 257.2L1308.4 259.1L1307 257.2L1305.1 255.8L1307 254.3ZM1309.3 252.3L1310.8 254.1L1312.6 255.6L1310.8 257L1309.3 258.9L1307.9 257L1306 255.6L1307.9 254.1ZM1310.2 252.2L1311.7 254L1313.5 255.5L1311.7 256.9L1310.2 258.8L1308.8 256.9L1306.9 255.5L1308.8 254ZM1311.2 254.5L1312.6 256.3L1314.5 257.8L1312.6 259.2L1311.2 261.1L1309.7 259.2L1307.9 257.8L1309.7 256.3ZM1312.1 252.9L1313.5 254.7L1315.4 256.2L1313.5 257.6L1312.1 259.5L1310.6 257.6L1308.8 256.2L1310.6 254.7ZM1313 253.4L1314.5 255.2L1316.3 256.7L1314.5 258.1L1313 260L1311.6 258.1L1309.7 256.7L1311.6 255.2ZM1314 252.3L1315.4 254.1L1317.3 255.6L1315.4 257L1314 258.9L1312.5 257L1310.7 255.6L1312.5 254.1ZM1314.9 252.2L1316.3 254L1318.2 255.5L1316.3 256.9L1314.9 258.8L1313.4 256.9L1311.6 255.5L1313.4 254ZM1315.8 250.3L1317.3 252.2L1319.1 253.6L1317.3 255.1L1315.8 256.9L1314.4 255.1L1312.5 253.6L1314.4 252.2ZM1316.7 251.1L1318.2 252.9L1320 254.4L1318.2 255.8L1316.7 257.7L1315.3 255.8L1313.4 254.4L1315.3 252.9ZM1317.7 250.8L1319.1 252.6L1321 254.1L1319.1 255.5L1317.7 257.4L1316.2 255.5L1314.4 254.1L1316.2 252.6ZM1318.6 251.9L1320.1 253.8L1321.9 255.2L1320.1 256.7L1318.6 258.5L1317.2 256.7L1315.3 255.2L1317.2 253.8ZM1319.5 253.6L1321 255.5L1322.8 256.9L1321 258.4L1319.5 260.2L1318.1 258.4L1316.2 256.9L1318.1 255.5ZM1320.4 254.4L1321.9 256.2L1323.7 257.7L1321.9 259.1L1320.4 261L1319 259.1L1317.1 257.7L1319 256.2ZM1321.4 253.9L1322.8 255.7L1324.7 257.2L1322.8 258.6L1321.4 260.5L1319.9 258.6L1318.1 257.2L1319.9 255.7ZM1322.3 254.7L1323.7 256.6L1325.6 258L1323.7 259.5L1322.3 261.3L1320.8 259.5L1319 258L1320.8 256.6ZM1323.2 255.3L1324.6 257.2L1326.5 258.6L1324.6 260.1L1323.2 261.9L1321.7 260.1L1319.9 258.6L1321.7 257.2ZM1324.1 255.8L1325.6 257.6L1327.4 259.1L1325.6 260.5L1324.1 262.4L1322.7 260.5L1320.8 259.1L1322.7 257.6ZM1325 255.8L1326.5 257.6L1328.3 259.1L1326.5 260.5L1325 262.4L1323.6 260.5L1321.7 259.1L1323.6 257.6ZM1326 255.5L1327.4 257.3L1329.3 258.8L1327.4 260.2L1326 262.1L1324.5 260.2L1322.7 258.8L1324.5 257.3ZM1326.9 255.9L1328.3 257.8L1330.2 259.2L1328.3 260.7L1326.9 262.5L1325.4 260.7L1323.6 259.2L1325.4 257.8ZM1327.8 257.1L1329.3 259L1331.1 260.4L1329.3 261.9L1327.8 263.7L1326.4 261.9L1324.5 260.4L1326.4 259ZM1328.7 257.7L1330.2 259.5L1332 261L1330.2 262.4L1328.7 264.3L1327.3 262.4L1325.4 261L1327.3 259.5ZM1329.7 256.2L1331.1 258L1333 259.5L1331.1 260.9L1329.7 262.8L1328.2 260.9L1326.4 259.5L1328.2 258ZM1330.6 257.4L1332 259.2L1333.9 260.7L1332 262.1L1330.6 264L1329.1 262.1L1327.3 260.7L1329.1 259.2ZM1331.5 258L1332.9 259.8L1334.8 261.3L1332.9 262.7L1331.5 264.6L1330 262.7L1328.2 261.3L1330 259.8ZM1332.4 256.7L1333.9 258.6L1335.7 260L1333.9 261.5L1332.4 263.3L1331 261.5L1329.1 260L1331 258.6ZM1333.3 257.6L1334.8 259.4L1336.6 260.9L1334.8 262.3L1333.3 264.2L1331.9 262.3L1330 260.9L1331.9 259.4ZM1334.2 255L1335.7 256.9L1337.5 258.3L1335.7 259.8L1334.2 261.6L1332.8 259.8L1330.9 258.3L1332.8 256.9ZM1335.1 254.8L1336.6 256.7L1338.4 258.1L1336.6 259.6L1335.1 261.4L1333.7 259.6L1331.8 258.1L1333.7 256.7ZM1336.1 253.4L1337.5 255.2L1339.4 256.7L1337.5 258.1L1336.1 260L1334.6 258.1L1332.8 256.7L1334.6 255.2ZM1337 251.2L1338.4 253L1340.3 254.5L1338.4 255.9L1337 257.8L1335.5 255.9L1333.7 254.5L1335.5 253ZM1337.9 248.2L1339.4 250L1341.2 251.5L1339.4 252.9L1337.9 254.8L1336.5 252.9L1334.6 251.5L1336.5 250ZM1338.8 246.7L1340.3 248.6L1342.1 250L1340.3 251.5L1338.8 253.3L1337.4 251.5L1335.5 250L1337.4 248.6ZM1339.7 246.1L1341.2 248L1343 249.4L1341.2 250.9L1339.7 252.7L1338.3 250.9L1336.4 249.4L1338.3 248ZM1340.6 244.9L1342.1 246.8L1343.9 248.2L1342.1 249.7L1340.6 251.5L1339.2 249.7L1337.3 248.2L1339.2 246.8ZM1341.6 244.4L1343 246.3L1344.9 247.7L1343 249.2L1341.6 251L1340.1 249.2L1338.3 247.7L1340.1 246.3ZM1342.5 244.4L1343.9 246.3L1345.8 247.7L1343.9 249.2L1342.5 251L1341 249.2L1339.2 247.7L1341 246.3ZM1343.4 244.9L1344.9 246.7L1346.7 248.2L1344.9 249.6L1343.4 251.5L1342 249.6L1340.1 248.2L1342 246.7ZM1344.3 244.5L1345.8 246.4L1347.6 247.8L1345.8 249.3L1344.3 251.1L1342.9 249.3L1341 247.8L1342.9 246.4ZM1345.2 246.2L1346.7 248L1348.5 249.5L1346.7 250.9L1345.2 252.8L1343.8 250.9L1341.9 249.5L1343.8 248ZM1346.1 246.4L1347.6 248.2L1349.4 249.7L1347.6 251.1L1346.1 253L1344.7 251.1L1342.8 249.7L1344.7 248.2ZM1347.1 245.5L1348.5 247.3L1350.4 248.8L1348.5 250.2L1347.1 252.1L1345.6 250.2L1343.8 248.8L1345.6 247.3ZM1348 245.8L1349.4 247.6L1351.3 249.1L1349.4 250.5L1348 252.4L1346.5 250.5L1344.7 249.1L1346.5 247.6ZM1348.9 245.1L1350.3 246.9L1352.2 248.4L1350.3 249.8L1348.9 251.7L1347.4 249.8L1345.6 248.4L1347.4 246.9ZM1349.8 243.7L1351.2 245.6L1353.1 247L1351.2 248.5L1349.8 250.3L1348.3 248.5L1346.5 247L1348.3 245.6ZM1350.7 242.9L1352.1 244.7L1354 246.2L1352.1 247.6L1350.7 249.5L1349.2 247.6L1347.4 246.2L1349.2 244.7ZM1351.6 244.1L1353.1 245.9L1354.9 247.4L1353.1 248.8L1351.6 250.7L1350.2 248.8L1348.3 247.4L1350.2 245.9ZM1352.5 243.9L1354 245.8L1355.8 247.2L1354 248.7L1352.5 250.5L1351.1 248.7L1349.2 247.2L1351.1 245.8ZM1353.4 244.6L1354.9 246.4L1356.7 247.9L1354.9 249.3L1353.4 251.2L1352 249.3L1350.1 247.9L1352 246.4ZM1354.3 245.8L1355.8 247.6L1357.6 249.1L1355.8 250.5L1354.3 252.4L1352.9 250.5L1351 249.1L1352.9 247.6ZM1355.3 245.7L1356.7 247.5L1358.6 249L1356.7 250.4L1355.3 252.3L1353.8 250.4L1352 249L1353.8 247.5ZM1356.2 245.9L1357.6 247.8L1359.5 249.2L1357.6 250.7L1356.2 252.5L1354.7 250.7L1352.9 249.2L1354.7 247.8ZM1357.1 245.6L1358.5 247.4L1360.4 248.9L1358.5 250.3L1357.1 252.2L1355.6 250.3L1353.8 248.9L1355.6 247.4ZM1358 244.2L1359.4 246L1361.3 247.5L1359.4 248.9L1358 250.8L1356.5 248.9L1354.7 247.5L1356.5 246ZM1358.9 244.9L1360.4 246.8L1362.2 248.2L1360.4 249.7L1358.9 251.5L1357.5 249.7L1355.6 248.2L1357.5 246.8ZM1359.8 243.4L1361.3 245.2L1363.1 246.7L1361.3 248.1L1359.8 250L1358.4 248.1L1356.5 246.7L1358.4 245.2ZM1360.7 244.2L1362.2 246.1L1364 247.5L1362.2 249L1360.7 250.8L1359.3 249L1357.4 247.5L1359.3 246.1ZM1361.6 243.9L1363.1 245.7L1364.9 247.2L1363.1 248.6L1361.6 250.5L1360.2 248.6L1358.3 247.2L1360.2 245.7ZM1362.6 243.7L1364 245.5L1365.9 247L1364 248.4L1362.6 250.3L1361.1 248.4L1359.3 247L1361.1 245.5ZM1363.5 243.1L1364.9 244.9L1366.8 246.4L1364.9 247.8L1363.5 249.7L1362 247.8L1360.2 246.4L1362 244.9ZM1364.4 244.3L1365.8 246.2L1367.7 247.6L1365.8 249.1L1364.4 250.9L1362.9 249.1L1361.1 247.6L1362.9 246.2ZM1365.3 244.4L1366.7 246.3L1368.6 247.7L1366.7 249.2L1365.3 251L1363.8 249.2L1362 247.7L1363.8 246.3ZM1366.2 245.9L1367.6 247.7L1369.5 249.2L1367.6 250.6L1366.2 252.5L1364.7 250.6L1362.9 249.2L1364.7 247.7ZM1367.1 244.6L1368.6 246.5L1370.4 247.9L1368.6 249.4L1367.1 251.2L1365.7 249.4L1363.8 247.9L1365.7 246.5ZM1368 246.4L1369.5 248.2L1371.3 249.7L1369.5 251.1L1368 253L1366.6 251.1L1364.7 249.7L1366.6 248.2ZM1368.9 246.5L1370.4 248.3L1372.2 249.8L1370.4 251.2L1368.9 253.1L1367.5 251.2L1365.6 249.8L1367.5 248.3ZM1369.8 245.7L1371.3 247.5L1373.1 249L1371.3 250.4L1369.8 252.3L1368.4 250.4L1366.5 249L1368.4 247.5ZM1370.8 245.6L1372.2 247.4L1374.1 248.9L1372.2 250.3L1370.8 252.2L1369.3 250.3L1367.5 248.9L1369.3 247.4ZM1371.7 244.1L1373.1 245.9L1375 247.4L1373.1 248.8L1371.7 250.7L1370.2 248.8L1368.4 247.4L1370.2 245.9ZM1372.6 245.4L1374 247.2L1375.9 248.7L1374 250.1L1372.6 252L1371.1 250.1L1369.3 248.7L1371.1 247.2ZM1373.5 244.1L1374.9 246L1376.8 247.4L1374.9 248.9L1373.5 250.7L1372 248.9L1370.2 247.4L1372 246ZM1374.4 244.3L1375.8 246.1L1377.7 247.6L1375.8 249L1374.4 250.9L1372.9 249L1371.1 247.6L1372.9 246.1ZM1375.3 243.2L1376.7 245L1378.6 246.5L1376.7 247.9L1375.3 249.8L1373.8 247.9L1372 246.5L1373.8 245ZM1376.2 240.7L1377.6 242.5L1379.5 244L1377.6 245.4L1376.2 247.3L1374.7 245.4L1372.9 244L1374.7 242.5ZM1377.1 240.9L1378.6 242.8L1380.4 244.2L1378.6 245.7L1377.1 247.5L1375.7 245.7L1373.8 244.2L1375.7 242.8ZM1378 240.7L1379.5 242.6L1381.3 244L1379.5 245.5L1378 247.3L1376.6 245.5L1374.7 244L1376.6 242.6ZM1378.9 239.5L1380.4 241.4L1382.2 242.8L1380.4 244.3L1378.9 246.1L1377.5 244.3L1375.6 242.8L1377.5 241.4ZM1379.8 240.6L1381.3 242.5L1383.1 243.9L1381.3 245.4L1379.8 247.2L1378.4 245.4L1376.5 243.9L1378.4 242.5ZM1380.7 242L1382.2 243.8L1384 245.3L1382.2 246.7L1380.7 248.6L1379.3 246.7L1377.4 245.3L1379.3 243.8ZM1381.6 241.3L1383.1 243.2L1384.9 244.6L1383.1 246.1L1381.6 247.9L1380.2 246.1L1378.3 244.6L1380.2 243.2ZM1382.6 243.3L1384 245.1L1385.9 246.6L1384 248L1382.6 249.9L1381.1 248L1379.3 246.6L1381.1 245.1ZM1383.5 242L1384.9 243.9L1386.8 245.3L1384.9 246.8L1383.5 248.6L1382 246.8L1380.2 245.3L1382 243.9ZM1384.4 243.1L1385.8 245L1387.7 246.4L1385.8 247.9L1384.4 249.7L1382.9 247.9L1381.1 246.4L1382.9 245ZM1385.3 241.8L1386.7 243.6L1388.6 245.1L1386.7 246.5L1385.3 248.4L1383.8 246.5L1382 245.1L1383.8 243.6ZM1386.2 242.5L1387.6 244.4L1389.5 245.8L1387.6 247.3L1386.2 249.1L1384.7 247.3L1382.9 245.8L1384.7 244.4ZM1387.1 243.3L1388.5 245.2L1390.4 246.6L1388.5 248.1L1387.1 249.9L1385.6 248.1L1383.8 246.6L1385.6 245.2ZM1388 241.9L1389.4 243.8L1391.3 245.2L1389.4 246.7L1388 248.5L1386.5 246.7L1384.7 245.2L1386.5 243.8ZM1388.9 241.4L1390.3 243.3L1392.2 244.7L1390.3 246.2L1388.9 248L1387.4 246.2L1385.6 244.7L1387.4 243.3ZM1389.8 241.1L1391.2 243L1393.1 244.4L1391.2 245.9L1389.8 247.7L1388.3 245.9L1386.5 244.4L1388.3 243ZM1390.7 240L1392.2 241.8L1394 243.3L1392.2 244.7L1390.7 246.6L1389.3 244.7L1387.4 243.3L1389.3 241.8ZM1391.6 238.7L1393.1 240.5L1394.9 242L1393.1 243.4L1391.6 245.3L1390.2 243.4L1388.3 242L1390.2 240.5ZM1392.5 238.2L1394 240L1395.8 241.5L1394 242.9L1392.5 244.8L1391.1 242.9L1389.2 241.5L1391.1 240ZM1393.4 237.4L1394.9 239.2L1396.7 240.7L1394.9 242.1L1393.4 244L1392 242.1L1390.1 240.7L1392 239.2ZM1394.3 238.9L1395.8 240.7L1397.6 242.2L1395.8 243.6L1394.3 245.5L1392.9 243.6L1391 242.2L1392.9 240.7ZM1395.2 238.9L1396.7 240.8L1398.5 242.2L1396.7 243.7L1395.2 245.5L1393.8 243.7L1391.9 242.2L1393.8 240.8ZM1396.1 239.9L1397.6 241.7L1399.4 243.2L1397.6 244.6L1396.1 246.5L1394.7 244.6L1392.8 243.2L1394.7 241.7ZM1397 238.9L1398.5 240.8L1400.3 242.2L1398.5 243.7L1397 245.5L1395.6 243.7L1393.7 242.2L1395.6 240.8Z" fill="#f00"/>
<path d="M1212.9 365.5 L1214.9 366.7 L1216.9 368.7 L1218.9 370.6 L1220.9 372.4 L1222.9 374 L1224.9 375.5 L1226.9 376.7 L1228.9 377.9 L1230.9 379 L1232.9 380.1 L1234.9 381 L1236.9 381.7 L1238.9 382.3 L1240.9 383 L1242.9 383.8 L1244.9 384.5 L1246.9 385.4 L1248.9 386.4 L1250.9 387.2 L1252.9 387.9 L1254.9 388.6 L1256.9 390.1 L1258.9 391.7 L1260.9 392.9 L1262.9 393.7 L1264.9 394.6 L1266.9 395.9 L1268.9 397.2 L1270.9 398.2 L1272.9 398.8 L1274.9 399.4 L1276.9 400.7 L1278.9 402 L1280.9 403.1 L1282.9 404.1 L1284.9 405 L1286.9 405.1 L1288.9 405.1 L1290.9 405.4 L1292.9 406 L1294.9 406.7 L1296.9 408.1 L1298.9 409.6 L1300.9 410.7 L1302.9 411.4 L1304.9 412.1 L1306.9 413.4 L1308.9 414.6 L1310.9 415.5 L1312.9 415.9 L1314.9 416.3 L1316.9 416.6 L1318.9 416.8 L1320.9 417.3 L1322.9 418.2 L1324.9 419 L1326.9 419.8 L1328.9 420.6 L1330.9 421.1 L1332.9 421.3 L1334.9 421.6 L1336.9 421.9 L1338.9 422.3 L1340.9 422.7 L1342.9 423.4 L1344.9 424 L1346.9 424.9 L1348.9 425.8 L1350.9 426.6 L1352.9 427.1 L1354.9 427.7 L1356.9 427.9 L1358.9 428.2 L1360.9 428.6 L1362.9 429 L1364.9 429.5 L1366.9 430 L1368.9 430.4 L1370.9 430.9 L1372.9 431.3 L1374.9 431.7 L1376.9 432.3 L1378.9 433 L1380.9 433.5 L1382.9 433.8 L1384.9 434 L1386.9 434.5 L1388.9 434.9 L1390.9 435.3 L1392.9 435.6 L1394.9 435.9 L1396.9 436.1 L1397.5 436.4" fill="none" stroke="#00f" stroke-width="5.2" stroke-linecap="round" stroke-linejoin="round"/>
<g fill="none" stroke="#00f" stroke-width="1.7">
<circle cx="880" cy="13.5" r="1.9"/>
<circle cx="936.9" cy="78.8" r="1.9"/>
<circle cx="954.3" cy="100.5" r="1.9"/>
<circle cx="967.5" cy="117.4" r="1.9"/>
<circle cx="978.3" cy="129.2" r="1.9"/>
<circle cx="993.2" cy="147.1" r="1.9"/>
<circle cx="1000.2" cy="156.2" r="1.9"/>
<circle cx="1006.5" cy="163.8" r="1.9"/>
<circle cx="1016" cy="177.5" r="1.9"/>
<circle cx="1020.7" cy="183.7" r="1.9"/>
<circle cx="1025.2" cy="188.6" r="1.9"/>
<circle cx="1029.2" cy="192.7" r="1.9"/>
<circle cx="1035.7" cy="201.2" r="1.9"/>
<circle cx="1039.2" cy="204.7" r="1.9"/>
<circle cx="1042.4" cy="207.9" r="1.9"/>
<circle cx="1048.3" cy="215.3" r="1.9"/>
<circle cx="1053" cy="219.3" r="1.9"/>
<circle cx="1055.5" cy="221.6" r="1.9"/>
<circle cx="1057.9" cy="223.9" r="1.9"/>
<circle cx="1060.2" cy="226.1" r="1.9"/>
<circle cx="1062.5" cy="228.2" r="1.9"/>
<circle cx="1066.2" cy="231.8" r="1.9"/>
<circle cx="1068.2" cy="233.7" r="1.9"/>
<circle cx="1070.1" cy="235.4" r="1.9"/>
<circle cx="1073.3" cy="238.8" r="1.9"/>
<circle cx="1075.1" cy="240.7" r="1.9"/>
<circle cx="1078.1" cy="243.9" r="1.9"/>
<circle cx="1079.7" cy="245.7" r="1.9"/>
<circle cx="1081.3" cy="247.5" r="1.9"/>
<circle cx="1084" cy="250.5" r="1.9"/>
<circle cx="1085.4" cy="252.1" r="1.9"/>
<circle cx="1087.9" cy="253.9" r="1.9"/>
<circle cx="1089.3" cy="254.9" r="1.9"/>
<circle cx="1090.6" cy="256" r="1.9"/>
<circle cx="1092.9" cy="258.3" r="1.9"/>
<circle cx="1094.1" cy="259.6" r="1.9"/>
<circle cx="1095.4" cy="260.8" r="1.9"/>
<circle cx="1096.6" cy="261.9" r="1.9"/>
<circle cx="1097.7" cy="262.9" r="1.9"/>
<circle cx="1099.7" cy="264.8" r="1.9"/>
<circle cx="1100.8" cy="266.2" r="1.9"/>
<circle cx="1101.9" cy="267.7" r="1.9"/>
<circle cx="1103.8" cy="270.2" r="1.9"/>
<circle cx="1104.8" cy="271.6" r="1.9"/>
<circle cx="1105.8" cy="272.8" r="1.9"/>
<circle cx="1106.8" cy="274" r="1.9"/>
<circle cx="1107.8" cy="275.1" r="1.9"/>
<circle cx="1108.8" cy="276.2" r="1.9"/>
<circle cx="1109.7" cy="277.2" r="1.9"/>
<circle cx="1110.7" cy="278" r="1.9"/>
<circle cx="1111.6" cy="278.7" r="1.9"/>
<circle cx="1112.5" cy="279.4" r="1.9"/>
<circle cx="1114" cy="280.5" r="1.9"/>
<circle cx="1114.9" cy="281.2" r="1.9"/>
<circle cx="1115.8" cy="282.3" r="1.9"/>
<circle cx="1116.6" cy="283.5" r="1.9"/>
<circle cx="1117.4" cy="284.6" r="1.9"/>
<circle cx="1118.2" cy="285.8" r="1.9"/>
<circle cx="1119" cy="286.9" r="1.9"/>
<circle cx="1119.8" cy="288" r="1.9"/>
<circle cx="1120.6" cy="288.9" r="1.9"/>
<circle cx="1121.4" cy="289.8" r="1.9"/>
<circle cx="1122.1" cy="290.7" r="1.9"/>
<circle cx="1122.9" cy="291.6" r="1.9"/>
<circle cx="1123.6" cy="292.5" r="1.9"/>
<circle cx="1124.3" cy="293.4" r="1.9"/>
<circle cx="1125.1" cy="294.2" r="1.9"/>
<circle cx="1125.8" cy="294.9" r="1.9"/>
<circle cx="1127" cy="296" r="1.9"/>
<circle cx="1127.7" cy="296.7" r="1.9"/>
<circle cx="1128.4" cy="297.3" r="1.9"/>
<circle cx="1129" cy="298" r="1.9"/>
<circle cx="1129.7" cy="298.6" r="1.9"/>
<circle cx="1130.8" cy="299.7" r="1.9"/>
<circle cx="1132" cy="300.8" r="1.9"/>
<circle cx="1132.6" cy="301.5" r="1.9"/>
<circle cx="1133.2" cy="302.1" r="1.9"/>
<circle cx="1133.8" cy="302.7" r="1.9"/>
<circle cx="1134.4" cy="303.3" r="1.9"/>
<circle cx="1135" cy="303.9" r="1.9"/>
<circle cx="1135.6" cy="304.4" r="1.9"/>
<circle cx="1136.2" cy="304.9" r="1.9"/>
<circle cx="1136.8" cy="305.4" r="1.9"/>
<circle cx="1137.8" cy="306.2" r="1.9"/>
<circle cx="1138.4" cy="306.6" r="1.9"/>
<circle cx="1138.9" cy="307.1" r="1.9"/>
<circle cx="1139.9" cy="307.8" r="1.9"/>
<circle cx="1140.5" cy="308.3" r="1.9"/>
<circle cx="1141" cy="308.8" r="1.9"/>
<circle cx="1141.5" cy="309.2" r="1.9"/>
<circle cx="1142.1" cy="309.7" r="1.9"/>
<circle cx="1142.6" cy="310.1" r="1.9"/>
<circle cx="1143.5" cy="310.9" r="1.9"/>
<circle cx="1144" cy="311.3" r="1.9"/>
<circle cx="1144.5" cy="311.8" r="1.9"/>
<circle cx="1145.4" cy="312.7" r="1.9"/>
<circle cx="1145.9" cy="313.3" r="1.9"/>
<circle cx="1146.4" cy="313.8" r="1.9"/>
<circle cx="1146.9" cy="314.4" r="1.9"/>
<circle cx="1147.4" cy="315" r="1.9"/>
<circle cx="1147.8" cy="315.6" r="1.9"/>
<circle cx="1148.7" cy="316.6" r="1.9"/>
<circle cx="1149.1" cy="317.1" r="1.9"/>
<circle cx="1149.6" cy="317.7" r="1.9"/>
<circle cx="1150.1" cy="318.2" r="1.9"/>
<circle cx="1150.5" cy="318.6" r="1.9"/>
<circle cx="1151.3" cy="319.2" r="1.9"/>
<circle cx="1152.1" cy="319.8" r="1.9"/>
<circle cx="1152.5" cy="320.2" r="1.9"/>
<circle cx="1153" cy="320.5" r="1.9"/>
<circle cx="1153.7" cy="321.1" r="1.9"/>
<circle cx="1154.1" cy="321.5" r="1.9"/>
<circle cx="1154.6" cy="321.8" r="1.9"/>
<circle cx="1155" cy="322.1" r="1.9"/>
<circle cx="1155.4" cy="322.5" r="1.9"/>
<circle cx="1155.8" cy="322.9" r="1.9"/>
<circle cx="1156.2" cy="323.3" r="1.9"/>
<circle cx="1156.6" cy="323.6" r="1.9"/>
<circle cx="1157.1" cy="324" r="1.9"/>
<circle cx="1157.5" cy="324.3" r="1.9"/>
<circle cx="1157.9" cy="324.7" r="1.9"/>
<circle cx="1158.3" cy="325.1" r="1.9"/>
<circle cx="1158.9" cy="325.6" r="1.9"/>
<circle cx="1159.3" cy="326" r="1.9"/>
<circle cx="1159.7" cy="326.3" r="1.9"/>
<circle cx="1160.1" cy="326.6" r="1.9"/>
<circle cx="1160.5" cy="327" r="1.9"/>
<circle cx="1161.2" cy="327.5" r="1.9"/>
<circle cx="1161.5" cy="327.9" r="1.9"/>
<circle cx="1161.9" cy="328.2" r="1.9"/>
<circle cx="1162.3" cy="328.5" r="1.9"/>
<circle cx="1162.9" cy="329" r="1.9"/>
<circle cx="1163.3" cy="329.3" r="1.9"/>
<circle cx="1163.9" cy="329.8" r="1.9"/>
<circle cx="1164.3" cy="330.1" r="1.9"/>
<circle cx="1164.6" cy="330.4" r="1.9"/>
<circle cx="1165" cy="330.7" r="1.9"/>
<circle cx="1165.3" cy="331" r="1.9"/>
<circle cx="1165.9" cy="331.4" r="1.9"/>
<circle cx="1166.3" cy="331.6" r="1.9"/>
<circle cx="1166.6" cy="331.8" r="1.9"/>
<circle cx="1167.2" cy="332.2" r="1.9"/>
<circle cx="1167.5" cy="332.4" r="1.9"/>
<circle cx="1167.9" cy="332.7" r="1.9"/>
<circle cx="1168.5" cy="333" r="1.9"/>
<circle cx="1168.8" cy="333.2" r="1.9"/>
<circle cx="1169.1" cy="333.5" r="1.9"/>
<circle cx="1169.4" cy="333.7" r="1.9"/>
<circle cx="1170" cy="334" r="1.9"/>
<circle cx="1170.3" cy="334.3" r="1.9"/>
<circle cx="1170.9" cy="334.8" r="1.9"/>
<circle cx="1171.2" cy="335.1" r="1.9"/>
<circle cx="1171.7" cy="335.6" r="1.9"/>
<circle cx="1172.1" cy="335.9" r="1.9"/>
<circle cx="1172.4" cy="336.1" r="1.9"/>
<circle cx="1172.7" cy="336.4" r="1.9"/>
<circle cx="1173" cy="336.7" r="1.9"/>
<circle cx="1173.3" cy="337" r="1.9"/>
<circle cx="1173.6" cy="337.2" r="1.9"/>
<circle cx="1173.9" cy="337.5" r="1.9"/>
<circle cx="1174.4" cy="338" r="1.9"/>
<circle cx="1174.7" cy="338.2" r="1.9"/>
<circle cx="1175" cy="338.5" r="1.9"/>
<circle cx="1175.3" cy="338.7" r="1.9"/>
<circle cx="1175.8" cy="339.1" r="1.9"/>
<circle cx="1176.1" cy="339.3" r="1.9"/>
<circle cx="1176.4" cy="339.5" r="1.9"/>
<circle cx="1176.7" cy="339.7" r="1.9"/>
<circle cx="1177" cy="339.9" r="1.9"/>
<circle cx="1177.2" cy="340.2" r="1.9"/>
<circle cx="1177.5" cy="340.4" r="1.9"/>
<circle cx="1177.8" cy="340.6" r="1.9"/>
<circle cx="1178.1" cy="340.8" r="1.9"/>
<circle cx="1178.4" cy="341" r="1.9"/>
<circle cx="1178.6" cy="341.2" r="1.9"/>
<circle cx="1178.9" cy="341.4" r="1.9"/>
<circle cx="1179.4" cy="341.8" r="1.9"/>
<circle cx="1179.9" cy="342.1" r="1.9"/>
<circle cx="1180.3" cy="342.5" r="1.9"/>
<circle cx="1180.6" cy="342.8" r="1.9"/>
<circle cx="1181.1" cy="343.2" r="1.9"/>
<circle cx="1181.5" cy="343.6" r="1.9"/>
<circle cx="1182" cy="344" r="1.9"/>
<circle cx="1182.2" cy="344.2" r="1.9"/>
<circle cx="1182.5" cy="344.5" r="1.9"/>
<circle cx="1182.7" cy="344.7" r="1.9"/>
<circle cx="1183" cy="344.9" r="1.9"/>
<circle cx="1183.4" cy="345.3" r="1.9"/>
<circle cx="1183.9" cy="345.7" r="1.9"/>
<circle cx="1184.1" cy="346" r="1.9"/>
<circle cx="1184.6" cy="346.4" r="1.9"/>
<circle cx="1184.8" cy="346.6" r="1.9"/>
<circle cx="1185.1" cy="346.8" r="1.9"/>
<circle cx="1185.3" cy="346.9" r="1.9"/>
<circle cx="1185.6" cy="347.1" r="1.9"/>
<circle cx="1186" cy="347.3" r="1.9"/>
<circle cx="1186.2" cy="347.5" r="1.9"/>
<circle cx="1186.5" cy="347.6" r="1.9"/>
<circle cx="1186.7" cy="347.8" r="1.9"/>
<circle cx="1186.9" cy="347.9" r="1.9"/>
<circle cx="1187.2" cy="348.1" r="1.9"/>
<circle cx="1187.4" cy="348.2" r="1.9"/>
<circle cx="1187.7" cy="348.3" r="1.9"/>
<circle cx="1187.9" cy="348.5" r="1.9"/>
<circle cx="1188.1" cy="348.6" r="1.9"/>
<circle cx="1188.5" cy="348.9" r="1.9"/>
<circle cx="1188.8" cy="349" r="1.9"/>
<circle cx="1189.2" cy="349.3" r="1.9"/>
<circle cx="1189.4" cy="349.4" r="1.9"/>
<circle cx="1189.6" cy="349.5" r="1.9"/>
<circle cx="1189.8" cy="349.7" r="1.9"/>
<circle cx="1190.1" cy="349.8" r="1.9"/>
<circle cx="1190.5" cy="350.1" r="1.9"/>
<circle cx="1190.7" cy="350.2" r="1.9"/>
<circle cx="1190.9" cy="350.4" r="1.9"/>
<circle cx="1191.1" cy="350.6" r="1.9"/>
<circle cx="1191.3" cy="350.7" r="1.9"/>
<circle cx="1191.7" cy="351" r="1.9"/>
<circle cx="1191.9" cy="351.1" r="1.9"/>
<circle cx="1192.3" cy="351.4" r="1.9"/>
<circle cx="1192.5" cy="351.6" r="1.9"/>
<circle cx="1192.8" cy="351.7" r="1.9"/>
<circle cx="1193" cy="351.9" r="1.9"/>
<circle cx="1193.3" cy="352.1" r="1.9"/>
<circle cx="1193.7" cy="352.4" r="1.9"/>
<circle cx="1193.9" cy="352.6" r="1.9"/>
<circle cx="1194.1" cy="352.7" r="1.9"/>
<circle cx="1194.3" cy="352.9" r="1.9"/>
<circle cx="1194.7" cy="353.1" r="1.9"/>
<circle cx="1194.9" cy="353.3" r="1.9"/>
<circle cx="1195.1" cy="353.4" r="1.9"/>
<circle cx="1195.3" cy="353.5" r="1.9"/>
<circle cx="1195.7" cy="353.8" r="1.9"/>
<circle cx="1195.9" cy="353.9" r="1.9"/>
<circle cx="1196.2" cy="354.1" r="1.9"/>
<circle cx="1196.4" cy="354.2" r="1.9"/>
<circle cx="1196.6" cy="354.4" r="1.9"/>
<circle cx="1196.8" cy="354.5" r="1.9"/>
<circle cx="1197" cy="354.6" r="1.9"/>
<circle cx="1197.2" cy="354.8" r="1.9"/>
<circle cx="1197.4" cy="354.9" r="1.9"/>
<circle cx="1197.6" cy="355" r="1.9"/>
<circle cx="1198" cy="355.2" r="1.9"/>
<circle cx="1198.2" cy="355.4" r="1.9"/>
<circle cx="1198.5" cy="355.6" r="1.9"/>
<circle cx="1198.7" cy="355.7" r="1.9"/>
<circle cx="1198.9" cy="355.8" r="1.9"/>
<circle cx="1199.1" cy="356" r="1.9"/>
<circle cx="1199.3" cy="356.1" r="1.9"/>
<circle cx="1199.6" cy="356.3" r="1.9"/>
<circle cx="1199.8" cy="356.4" r="1.9"/>
<circle cx="1200.1" cy="356.7" r="1.9"/>
<circle cx="1200.3" cy="356.8" r="1.9"/>
<circle cx="1200.5" cy="357" r="1.9"/>
<circle cx="1200.7" cy="357.1" r="1.9"/>
<circle cx="1201" cy="357.4" r="1.9"/>
<circle cx="1201.2" cy="357.5" r="1.9"/>
<circle cx="1201.4" cy="357.6" r="1.9"/>
<circle cx="1201.7" cy="357.9" r="1.9"/>
<circle cx="1201.9" cy="358" r="1.9"/>
<circle cx="1202.1" cy="358.2" r="1.9"/>
<circle cx="1202.2" cy="358.3" r="1.9"/>
<circle cx="1202.6" cy="358.6" r="1.9"/>
<circle cx="1202.9" cy="358.8" r="1.9"/>
<circle cx="1203.1" cy="359" r="1.9"/>
<circle cx="1203.2" cy="359.1" r="1.9"/>
<circle cx="1203.4" cy="359.2" r="1.9"/>
<circle cx="1203.6" cy="359.4" r="1.9"/>
<circle cx="1203.9" cy="359.6" r="1.9"/>
<circle cx="1204.1" cy="359.8" r="1.9"/>
<circle cx="1204.2" cy="359.9" r="1.9"/>
<circle cx="1204.4" cy="360.1" r="1.9"/>
<circle cx="1204.6" cy="360.2" r="1.9"/>
<circle cx="1204.9" cy="360.4" r="1.9"/>
<circle cx="1205.1" cy="360.6" r="1.9"/>
<circle cx="1205.2" cy="360.7" r="1.9"/>
<circle cx="1205.4" cy="360.8" r="1.9"/>
<circle cx="1205.7" cy="361" r="1.9"/>
<circle cx="1205.9" cy="361.1" r="1.9"/>
<circle cx="1206.1" cy="361.2" r="1.9"/>
<circle cx="1206.2" cy="361.3" r="1.9"/>
<circle cx="1206.4" cy="361.4" r="1.9"/>
<circle cx="1206.7" cy="361.6" r="1.9"/>
<circle cx="1206.8" cy="361.7" r="1.9"/>
<circle cx="1207" cy="361.8" r="1.9"/>
<circle cx="1207.2" cy="362" r="1.9"/>
<circle cx="1207.3" cy="362.1" r="1.9"/>
<circle cx="1207.5" cy="362.2" r="1.9"/>
<circle cx="1207.7" cy="362.3" r="1.9"/>
<circle cx="1207.8" cy="362.4" r="1.9"/>
<circle cx="1208" cy="362.5" r="1.9"/>
<circle cx="1208.3" cy="362.7" r="1.9"/>
<circle cx="1208.5" cy="362.8" r="1.9"/>
<circle cx="1208.6" cy="362.9" r="1.9"/>
<circle cx="1208.9" cy="363.1" r="1.9"/>
<circle cx="1209.1" cy="363.2" r="1.9"/>
<circle cx="1209.2" cy="363.3" r="1.9"/>
<circle cx="1209.5" cy="363.5" r="1.9"/>
<circle cx="1209.8" cy="363.7" r="1.9"/>
<circle cx="1209.9" cy="363.8" r="1.9"/>
<circle cx="1210.1" cy="363.9" r="1.9"/>
<circle cx="1210.2" cy="364" r="1.9"/>
<circle cx="1210.4" cy="364" r="1.9"/>
<circle cx="1210.6" cy="364.1" r="1.9"/>
<circle cx="1210.7" cy="364.2" r="1.9"/>
<circle cx="1210.9" cy="364.3" r="1.9"/>
<circle cx="1211" cy="364.4" r="1.9"/>
<circle cx="1211.2" cy="364.5" r="1.9"/>
<circle cx="1211.4" cy="364.7" r="1.9"/>
<circle cx="1211.6" cy="364.8" r="1.9"/>
<circle cx="1211.8" cy="364.9" r="1.9"/>
<circle cx="1211.9" cy="364.9" r="1.9"/>
<circle cx="1212.1" cy="365" r="1.9"/>
<circle cx="1212.2" cy="365.1" r="1.9"/>
<circle cx="1212.4" cy="365.2" r="1.9"/>
<circle cx="1212.5" cy="365.3" r="1.9"/>
<circle cx="1212.7" cy="365.4" r="1.9"/>
<circle cx="1212.9" cy="365.6" r="1.9"/>
<circle cx="1213.1" cy="365.6" r="1.9"/>
<circle cx="1213.2" cy="365.7" r="1.9"/>
<circle cx="1213.4" cy="365.8" r="1.9"/>
<circle cx="1213.5" cy="365.9" r="1.9"/>
<circle cx="1213.7" cy="366" r="1.9"/>
<circle cx="1213.8" cy="366.1" r="1.9"/>
<circle cx="1214.1" cy="366.2" r="1.9"/>
<circle cx="1214.3" cy="366.4" r="1.9"/>
<circle cx="1214.5" cy="366.5" r="1.9"/>
<circle cx="1214.7" cy="366.6" r="1.9"/>
<circle cx="1214.9" cy="366.7" r="1.9"/>
<circle cx="1215" cy="366.8" r="1.9"/>
<circle cx="1215.2" cy="366.9" r="1.9"/>
<circle cx="1215.3" cy="367.1" r="1.9"/>
<circle cx="1215.5" cy="367.2" r="1.9"/>
<circle cx="1215.6" cy="367.4" r="1.9"/>
<circle cx="1215.7" cy="367.5" r="1.9"/>
<circle cx="1216" cy="367.8" r="1.9"/>
<circle cx="1216.1" cy="367.9" r="1.9"/>
<circle cx="1216.3" cy="368" r="1.9"/>
<circle cx="1216.4" cy="368.2" r="1.9"/>
<circle cx="1216.5" cy="368.3" r="1.9"/>
<circle cx="1216.7" cy="368.5" r="1.9"/>
<circle cx="1216.8" cy="368.6" r="1.9"/>
<circle cx="1217" cy="368.7" r="1.9"/>
<circle cx="1217.1" cy="368.9" r="1.9"/>
<circle cx="1217.4" cy="369.1" r="1.9"/>
<circle cx="1217.5" cy="369.3" r="1.9"/>
<circle cx="1217.6" cy="369.4" r="1.9"/>
<circle cx="1217.9" cy="369.6" r="1.9"/>
<circle cx="1218" cy="369.8" r="1.9"/>
<circle cx="1218.1" cy="369.9" r="1.9"/>
<circle cx="1218.4" cy="370.1" r="1.9"/>
<circle cx="1218.5" cy="370.3" r="1.9"/>
<circle cx="1218.6" cy="370.4" r="1.9"/>
<circle cx="1218.8" cy="370.5" r="1.9"/>
<circle cx="1219" cy="370.8" r="1.9"/>
<circle cx="1219.3" cy="371" r="1.9"/>
<circle cx="1219.4" cy="371.1" r="1.9"/>
<circle cx="1219.5" cy="371.3" r="1.9"/>
<circle cx="1219.7" cy="371.4" r="1.9"/>
<circle cx="1219.8" cy="371.5" r="1.9"/>
<circle cx="1219.9" cy="371.6" r="1.9"/>
<circle cx="1220.1" cy="371.8" r="1.9"/>
<circle cx="1220.2" cy="371.9" r="1.9"/>
<circle cx="1220.4" cy="372" r="1.9"/>
<circle cx="1220.5" cy="372.1" r="1.9"/>
<circle cx="1220.7" cy="372.3" r="1.9"/>
<circle cx="1220.9" cy="372.4" r="1.9"/>
<circle cx="1221" cy="372.5" r="1.9"/>
<circle cx="1221.2" cy="372.6" r="1.9"/>
<circle cx="1221.3" cy="372.7" r="1.9"/>
<circle cx="1221.5" cy="372.9" r="1.9"/>
<circle cx="1221.6" cy="373" r="1.9"/>
<circle cx="1221.9" cy="373.2" r="1.9"/>
<circle cx="1222" cy="373.3" r="1.9"/>
<circle cx="1222.1" cy="373.4" r="1.9"/>
<circle cx="1222.2" cy="373.5" r="1.9"/>
<circle cx="1222.4" cy="373.6" r="1.9"/>
<circle cx="1222.5" cy="373.7" r="1.9"/>
<circle cx="1222.6" cy="373.8" r="1.9"/>
<circle cx="1222.8" cy="373.9" r="1.9"/>
<circle cx="1222.9" cy="374" r="1.9"/>
<circle cx="1223" cy="374.1" r="1.9"/>
<circle cx="1223.1" cy="374.2" r="1.9"/>
<circle cx="1223.3" cy="374.3" r="1.9"/>
<circle cx="1223.4" cy="374.4" r="1.9"/>
<circle cx="1223.6" cy="374.5" r="1.9"/>
<circle cx="1223.7" cy="374.6" r="1.9"/>
<circle cx="1223.8" cy="374.7" r="1.9"/>
<circle cx="1224.1" cy="374.9" r="1.9"/>
<circle cx="1224.2" cy="375" r="1.9"/>
<circle cx="1224.3" cy="375.1" r="1.9"/>
<circle cx="1224.4" cy="375.2" r="1.9"/>
<circle cx="1224.6" cy="375.3" r="1.9"/>
<circle cx="1224.8" cy="375.5" r="1.9"/>
<circle cx="1225" cy="375.6" r="1.9"/>
<circle cx="1225.1" cy="375.7" r="1.9"/>
<circle cx="1225.2" cy="375.7" r="1.9"/>
<circle cx="1225.3" cy="375.8" r="1.9"/>
<circle cx="1225.5" cy="375.9" r="1.9"/>
<circle cx="1225.7" cy="376" r="1.9"/>
<circle cx="1225.8" cy="376.1" r="1.9"/>
<circle cx="1226" cy="376.2" r="1.9"/>
<circle cx="1226.2" cy="376.3" r="1.9"/>
<circle cx="1226.3" cy="376.4" r="1.9"/>
<circle cx="1226.4" cy="376.5" r="1.9"/>
<circle cx="1226.5" cy="376.5" r="1.9"/>
<circle cx="1226.7" cy="376.6" r="1.9"/>
<circle cx="1226.9" cy="376.7" r="1.9"/>
<circle cx="1227" cy="376.8" r="1.9"/>
<circle cx="1227.2" cy="376.9" r="1.9"/>
<circle cx="1227.3" cy="377" r="1.9"/>
<circle cx="1227.4" cy="377.1" r="1.9"/>
<circle cx="1227.5" cy="377.1" r="1.9"/>
<circle cx="1227.7" cy="377.2" r="1.9"/>
<circle cx="1227.8" cy="377.3" r="1.9"/>
<circle cx="1227.9" cy="377.3" r="1.9"/>
<circle cx="1228" cy="377.4" r="1.9"/>
<circle cx="1228.1" cy="377.5" r="1.9"/>
<circle cx="1228.2" cy="377.5" r="1.9"/>
<circle cx="1228.3" cy="377.6" r="1.9"/>
<circle cx="1228.5" cy="377.7" r="1.9"/>
<circle cx="1228.6" cy="377.7" r="1.9"/>
<circle cx="1228.7" cy="377.8" r="1.9"/>
<circle cx="1228.8" cy="377.9" r="1.9"/>
<circle cx="1228.9" cy="377.9" r="1.9"/>
<circle cx="1229.1" cy="378.1" r="1.9"/>
</g>
</g>
<g font-family='"Liberation Sans", sans-serif' fill="#262626">
<text x="869.7" y="41.6" text-anchor="end" font-size="40"><tspan>10</tspan><tspan font-size="32" dy="-18.2" dx="-1.2">0</tspan></text>
<text x="869.7" y="219.3" text-anchor="end" font-size="40"><tspan>10</tspan><tspan font-size="32" dy="-18.2">-</tspan><tspan font-size="32" dx="-3">1</tspan></text>
<text x="869.7" y="396.9" text-anchor="end" font-size="40"><tspan>10</tspan><tspan font-size="32" dy="-18.2">-</tspan><tspan font-size="32" dx="-3">2</tspan></text>
<text x="932.5" y="497.3" text-anchor="middle" font-size="40"><tspan>10</tspan><tspan font-size="32" dy="-18.2">1</tspan></text>
<text x="1061.8" y="497.3" text-anchor="middle" font-size="40"><tspan>10</tspan><tspan font-size="32" dy="-18.2">2</tspan></text>
<text x="1191.1" y="497.3" text-anchor="middle" font-size="40"><tspan>10</tspan><tspan font-size="32" dy="-18.2">3</tspan></text>
<text x="1320.4" y="497.3" text-anchor="middle" font-size="40"><tspan>10</tspan><tspan font-size="32" dy="-18.2">4</tspan></text>
<text x="1449.7" y="497.3" text-anchor="middle" font-size="40"><tspan>10</tspan><tspan font-size="32" dy="-18.2">5</tspan></text>
<text x="1003.5" y="551.2" font-size="40" textLength="322" lengthAdjust="spacingAndGlyphs">Number of copies</text>
<path d="M764.7 217.9C764.2 226 769 231.4 775.2 231.6C781 231.7 784.6 227.2 784 222.8C783.7 221 783 219.6 782.1 218.4" fill="none" stroke="#262626" stroke-width="2.1" stroke-linecap="round"/>
<path d="M772.9 219.9V230" fill="none" stroke="#262626" stroke-width="1.9" stroke-linecap="round"/>
<path d="M766.6 226.3C769 230.2 772 231.6 775.2 231.6C778.2 231.6 780.6 230.4 782.2 228.4C780.4 229.6 778 230.2 775.6 230C772 229.8 769 228.6 766.6 226.3Z" fill="#262626" stroke="#262626" stroke-width="1.2" stroke-linejoin="round"/>
</g>
<text x="761.4" y="39" font-family='"Liberation Sans", sans-serif' font-weight="bold" font-size="50" fill="#000">b</text>
<rect x="1277.5" y="29.6" width="156" height="98.2" fill="#fff" stroke="#262626" stroke-width="1.3"/>
<g font-family='"Liberation Sans", sans-serif' font-size="37.2" fill="#000">
<text x="1343.6" y="69.4">tomo</text>
<text x="1343.6" y="116">verif</text>
</g>
<path d="M1311.3 52L1312.8 53.8L1314.6 55.3L1312.8 56.8L1311.3 58.6L1309.8 56.8L1308 55.3L1309.8 53.8Z" fill="#f00"/>
<circle cx="1311.3" cy="102" r="1.9" fill="none" stroke="#00f" stroke-width="1.7"/>
</svg>
</body></html>
